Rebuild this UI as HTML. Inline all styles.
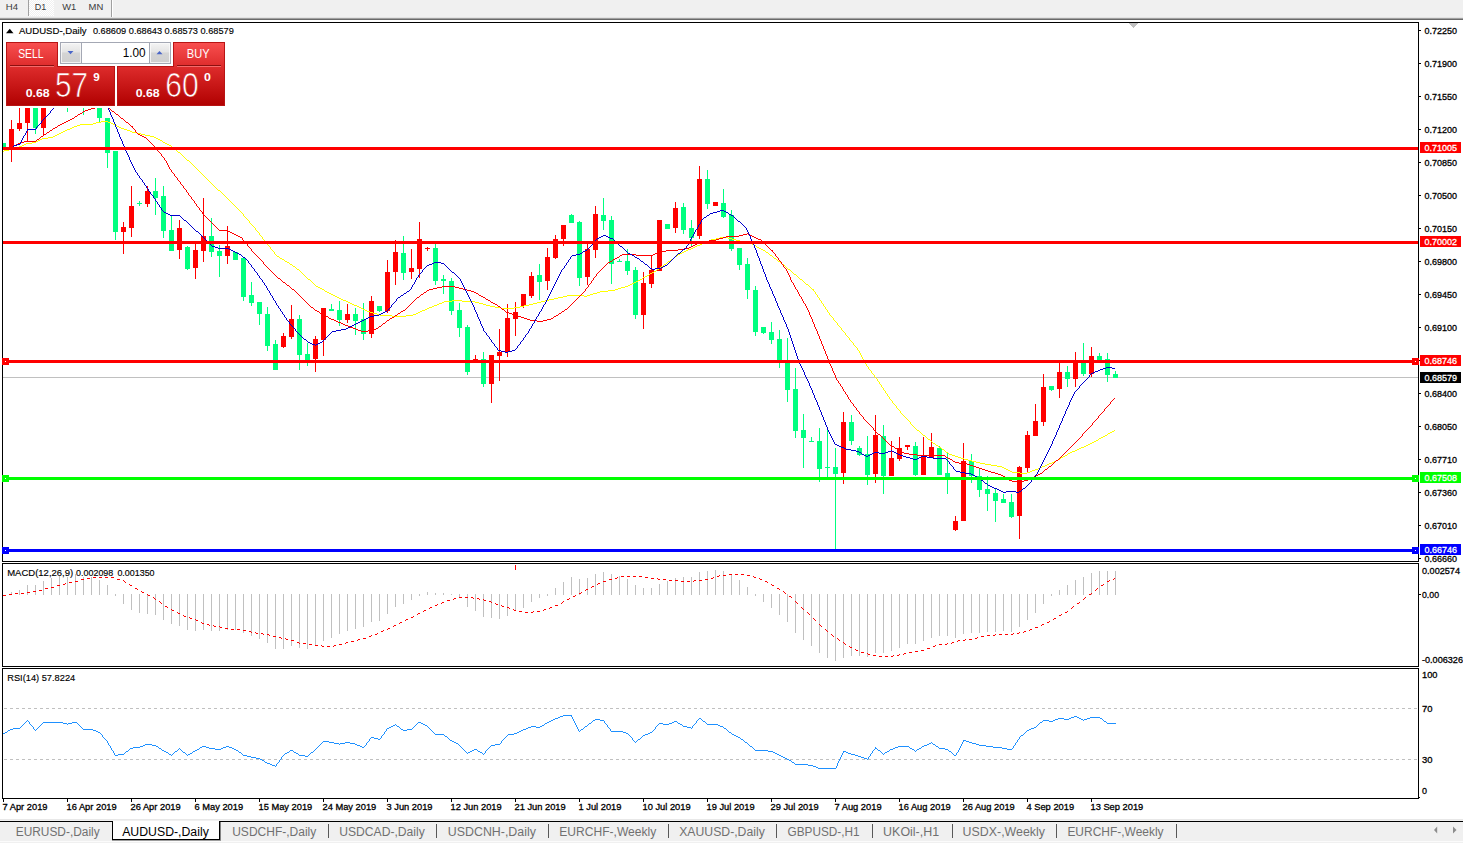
<!DOCTYPE html><html><head><meta charset="utf-8"><title>AUDUSD</title><style>html,body{margin:0;padding:0;background:#fff;overflow:hidden}</style></head><body><svg width="1463" height="843" viewBox="0 0 1463 843" font-family="Liberation Sans, sans-serif" style="display:block">
<defs>
<linearGradient id="gr" gradientUnits="userSpaceOnUse" x1="0" y1="42" x2="0" y2="106"><stop offset="0" stop-color="#f95050"/><stop offset="0.38" stop-color="#de2c2c"/><stop offset="1" stop-color="#b00000"/></linearGradient>
<linearGradient id="gb" x1="0" y1="0" x2="0" y2="1"><stop offset="0" stop-color="#f4f4f4"/><stop offset="0.45" stop-color="#e4e4e4"/><stop offset="0.5" stop-color="#d4d4d4"/><stop offset="1" stop-color="#cfcfcf"/></linearGradient>
<pattern id="chk" width="2" height="2" patternUnits="userSpaceOnUse"><rect width="2" height="2" fill="#f0f0f0"/><rect width="1" height="1" fill="#fff"/><rect x="1" y="1" width="1" height="1" fill="#fff"/></pattern>
</defs>
<rect x="0" y="0" width="1463" height="843" fill="#fff" />
<g shape-rendering="crispEdges">
<rect x="0" y="0" width="1463" height="17" fill="#f0f0f0" />
<rect x="0" y="17" width="1463" height="1" fill="#e3e3e3" />
<rect x="0" y="18" width="1463" height="1" fill="#a0a0a0" />
<rect x="0" y="19" width="1463" height="1" fill="#696969" />
<rect x="29" y="0" width="25" height="16" fill="url(#chk)" />
<rect x="28" y="0" width="1" height="16" fill="#a0a0a0" />
<rect x="111" y="0" width="1" height="17" fill="#a0a0a0" />
<rect x="112" y="0" width="1" height="17" fill="#ffffff" />
</g>
<text x="5.8" y="9.5" font-size="9.3" fill="#3a3a3a" textLength="12.2" lengthAdjust="spacingAndGlyphs" >H4</text>
<text x="34.7" y="9.5" font-size="9.3" fill="#3a3a3a" textLength="11.5" lengthAdjust="spacingAndGlyphs" >D1</text>
<text x="62.2" y="9.5" font-size="9.3" fill="#3a3a3a" textLength="14" lengthAdjust="spacingAndGlyphs" >W1</text>
<text x="88.6" y="9.5" font-size="9.3" fill="#3a3a3a" textLength="14.7" lengthAdjust="spacingAndGlyphs" >MN</text>
<g shape-rendering="crispEdges">
<rect x="2" y="22" width="1417" height="1" fill="#000" />
<rect x="2" y="561" width="1417" height="1" fill="#000" />
<rect x="2" y="22" width="1" height="540" fill="#000" />
<rect x="1418" y="22" width="1" height="540" fill="#000" />
<rect x="2" y="563" width="1417" height="1" fill="#000" />
<rect x="2" y="666" width="1417" height="1" fill="#000" />
<rect x="2" y="563" width="1" height="104" fill="#000" />
<rect x="1418" y="563" width="1" height="104" fill="#000" />
<rect x="2" y="668" width="1417" height="1" fill="#000" />
<rect x="2" y="798" width="1417" height="1" fill="#000" />
<rect x="2" y="668" width="1" height="131" fill="#000" />
<rect x="1418" y="668" width="1" height="131" fill="#000" />
<polygon points="1128.5,23 1138.5,23 1133.5,28" fill="#c0c0c0"/>
<rect x="3" y="377" width="1415" height="1" fill="#c0c0c0" />
<rect x="3" y="143" width="1" height="6" fill="#00ff7f" />
<rect x="3" y="143" width="3" height="5" fill="#00ff7f" />
<rect x="11" y="120" width="1" height="42" fill="#ff0000" />
<rect x="9" y="129" width="5" height="19" fill="#ff0000" />
<rect x="19" y="100" width="1" height="31" fill="#ff0000" />
<rect x="17" y="123" width="5" height="6" fill="#ff0000" />
<rect x="27" y="100" width="1" height="42" fill="#ff0000" />
<rect x="25" y="100" width="5" height="23" fill="#ff0000" />
<rect x="35" y="100" width="1" height="34" fill="#00ff7f" />
<rect x="33" y="100" width="5" height="28" fill="#00ff7f" />
<rect x="43" y="100" width="1" height="35" fill="#ff0000" />
<rect x="41" y="100" width="5" height="28" fill="#ff0000" />
<rect x="67" y="100" width="1" height="12" fill="#00ff7f" />
<rect x="83" y="100" width="1" height="15" fill="#00ff7f" />
<rect x="99" y="100" width="1" height="22" fill="#00ff7f" />
<rect x="97" y="100" width="5" height="18" fill="#00ff7f" />
<rect x="107" y="118" width="1" height="50" fill="#00ff7f" />
<rect x="105" y="118" width="5" height="35" fill="#00ff7f" />
<rect x="115" y="151" width="1" height="89" fill="#00ff7f" />
<rect x="113" y="151" width="5" height="81" fill="#00ff7f" />
<rect x="123" y="222" width="1" height="32" fill="#ff0000" />
<rect x="121" y="227" width="5" height="5" fill="#ff0000" />
<rect x="131" y="186" width="1" height="51" fill="#ff0000" />
<rect x="129" y="206" width="5" height="22" fill="#ff0000" />
<rect x="139" y="201" width="1" height="5" fill="#00ff7f" />
<rect x="137" y="203" width="5" height="1" fill="#00ff7f" />
<rect x="147" y="186" width="1" height="21" fill="#ff0000" />
<rect x="145" y="191" width="5" height="13" fill="#ff0000" />
<rect x="155" y="178" width="1" height="37" fill="#00ff7f" />
<rect x="153" y="191" width="5" height="7" fill="#00ff7f" />
<rect x="163" y="186" width="1" height="52" fill="#00ff7f" />
<rect x="161" y="196" width="5" height="35" fill="#00ff7f" />
<rect x="171" y="216" width="1" height="35" fill="#00ff7f" />
<rect x="169" y="230" width="5" height="21" fill="#00ff7f" />
<rect x="179" y="220" width="1" height="39" fill="#ff0000" />
<rect x="177" y="228" width="5" height="22" fill="#ff0000" />
<rect x="187" y="246" width="1" height="24" fill="#00ff7f" />
<rect x="185" y="247" width="5" height="22" fill="#00ff7f" />
<rect x="195" y="244" width="1" height="35" fill="#ff0000" />
<rect x="193" y="250" width="5" height="18" fill="#ff0000" />
<rect x="203" y="198" width="1" height="64" fill="#ff0000" />
<rect x="201" y="236" width="5" height="15" fill="#ff0000" />
<rect x="211" y="218" width="1" height="39" fill="#00ff7f" />
<rect x="209" y="236" width="5" height="16" fill="#00ff7f" />
<rect x="219" y="245" width="1" height="32" fill="#00ff7f" />
<rect x="217" y="251" width="5" height="5" fill="#00ff7f" />
<rect x="227" y="226" width="1" height="38" fill="#ff0000" />
<rect x="225" y="246" width="5" height="10" fill="#ff0000" />
<rect x="235" y="252" width="1" height="8" fill="#00ff7f" />
<rect x="233" y="252" width="5" height="8" fill="#00ff7f" />
<rect x="243" y="257" width="1" height="44" fill="#00ff7f" />
<rect x="241" y="258" width="5" height="39" fill="#00ff7f" />
<rect x="251" y="282" width="1" height="24" fill="#00ff7f" />
<rect x="249" y="295" width="5" height="8" fill="#00ff7f" />
<rect x="259" y="302" width="1" height="23" fill="#00ff7f" />
<rect x="257" y="302" width="5" height="12" fill="#00ff7f" />
<rect x="267" y="307" width="1" height="44" fill="#00ff7f" />
<rect x="265" y="314" width="5" height="32" fill="#00ff7f" />
<rect x="275" y="340" width="1" height="30" fill="#00ff7f" />
<rect x="273" y="344" width="5" height="26" fill="#00ff7f" />
<rect x="283" y="333" width="1" height="15" fill="#ff0000" />
<rect x="281" y="336" width="5" height="11" fill="#ff0000" />
<rect x="291" y="305" width="1" height="34" fill="#ff0000" />
<rect x="289" y="319" width="5" height="18" fill="#ff0000" />
<rect x="299" y="315" width="1" height="55" fill="#00ff7f" />
<rect x="297" y="319" width="5" height="36" fill="#00ff7f" />
<rect x="307" y="343" width="1" height="23" fill="#00ff7f" />
<rect x="305" y="354" width="5" height="7" fill="#00ff7f" />
<rect x="315" y="336" width="1" height="36" fill="#ff0000" />
<rect x="313" y="339" width="5" height="20" fill="#ff0000" />
<rect x="323" y="308" width="1" height="48" fill="#ff0000" />
<rect x="321" y="308" width="5" height="32" fill="#ff0000" />
<rect x="331" y="304" width="1" height="7" fill="#00ff7f" />
<rect x="329" y="309" width="5" height="2" fill="#00ff7f" />
<rect x="339" y="301" width="1" height="25" fill="#00ff7f" />
<rect x="337" y="310" width="5" height="10" fill="#00ff7f" />
<rect x="347" y="304" width="1" height="19" fill="#ff0000" />
<rect x="345" y="314" width="5" height="6" fill="#ff0000" />
<rect x="355" y="308" width="1" height="27" fill="#00ff7f" />
<rect x="353" y="314" width="5" height="7" fill="#00ff7f" />
<rect x="363" y="303" width="1" height="37" fill="#00ff7f" />
<rect x="361" y="319" width="5" height="15" fill="#00ff7f" />
<rect x="371" y="296" width="1" height="42" fill="#ff0000" />
<rect x="369" y="301" width="5" height="33" fill="#ff0000" />
<rect x="379" y="306" width="1" height="6" fill="#00ff7f" />
<rect x="377" y="306" width="5" height="5" fill="#00ff7f" />
<rect x="387" y="260" width="1" height="53" fill="#ff0000" />
<rect x="385" y="272" width="5" height="39" fill="#ff0000" />
<rect x="395" y="240" width="1" height="45" fill="#ff0000" />
<rect x="393" y="252" width="5" height="20" fill="#ff0000" />
<rect x="403" y="236" width="1" height="44" fill="#00ff7f" />
<rect x="401" y="253" width="5" height="20" fill="#00ff7f" />
<rect x="411" y="249" width="1" height="30" fill="#ff0000" />
<rect x="409" y="268" width="5" height="4" fill="#ff0000" />
<rect x="419" y="222" width="1" height="56" fill="#ff0000" />
<rect x="417" y="239" width="5" height="30" fill="#ff0000" />
<rect x="427" y="247" width="1" height="4" fill="#ff0000" />
<rect x="425" y="248" width="5" height="1" fill="#ff0000" />
<rect x="435" y="244" width="1" height="41" fill="#00ff7f" />
<rect x="433" y="248" width="5" height="33" fill="#00ff7f" />
<rect x="443" y="275" width="1" height="19" fill="#00ff7f" />
<rect x="441" y="279" width="5" height="2" fill="#00ff7f" />
<rect x="451" y="278" width="1" height="37" fill="#00ff7f" />
<rect x="449" y="281" width="5" height="30" fill="#00ff7f" />
<rect x="459" y="303" width="1" height="34" fill="#00ff7f" />
<rect x="457" y="310" width="5" height="18" fill="#00ff7f" />
<rect x="467" y="325" width="1" height="50" fill="#00ff7f" />
<rect x="465" y="327" width="5" height="45" fill="#00ff7f" />
<rect x="475" y="355" width="1" height="7" fill="#ff0000" />
<rect x="473" y="359" width="5" height="3" fill="#ff0000" />
<rect x="483" y="352" width="1" height="35" fill="#00ff7f" />
<rect x="481" y="359" width="5" height="25" fill="#00ff7f" />
<rect x="491" y="355" width="1" height="48" fill="#ff0000" />
<rect x="489" y="355" width="5" height="29" fill="#ff0000" />
<rect x="499" y="329" width="1" height="52" fill="#ff0000" />
<rect x="497" y="352" width="5" height="4" fill="#ff0000" />
<rect x="507" y="304" width="1" height="53" fill="#ff0000" />
<rect x="505" y="318" width="5" height="34" fill="#ff0000" />
<rect x="515" y="302" width="1" height="34" fill="#ff0000" />
<rect x="513" y="312" width="5" height="7" fill="#ff0000" />
<rect x="523" y="294" width="1" height="14" fill="#ff0000" />
<rect x="521" y="294" width="5" height="12" fill="#ff0000" />
<rect x="531" y="272" width="1" height="26" fill="#ff0000" />
<rect x="529" y="276" width="5" height="20" fill="#ff0000" />
<rect x="539" y="264" width="1" height="36" fill="#00ff7f" />
<rect x="537" y="275" width="5" height="7" fill="#00ff7f" />
<rect x="547" y="248" width="1" height="42" fill="#ff0000" />
<rect x="545" y="257" width="5" height="24" fill="#ff0000" />
<rect x="555" y="235" width="1" height="24" fill="#ff0000" />
<rect x="553" y="239" width="5" height="19" fill="#ff0000" />
<rect x="563" y="225" width="1" height="21" fill="#ff0000" />
<rect x="561" y="225" width="5" height="14" fill="#ff0000" />
<rect x="571" y="214" width="1" height="9" fill="#00ff7f" />
<rect x="569" y="215" width="5" height="8" fill="#00ff7f" />
<rect x="579" y="221" width="1" height="65" fill="#00ff7f" />
<rect x="577" y="222" width="5" height="56" fill="#00ff7f" />
<rect x="587" y="241" width="1" height="44" fill="#ff0000" />
<rect x="585" y="249" width="5" height="28" fill="#ff0000" />
<rect x="595" y="206" width="1" height="52" fill="#ff0000" />
<rect x="593" y="214" width="5" height="36" fill="#ff0000" />
<rect x="603" y="198" width="1" height="32" fill="#00ff7f" />
<rect x="601" y="215" width="5" height="6" fill="#00ff7f" />
<rect x="611" y="216" width="1" height="68" fill="#00ff7f" />
<rect x="609" y="220" width="5" height="44" fill="#00ff7f" />
<rect x="619" y="259" width="1" height="3" fill="#00ff7f" />
<rect x="617" y="261" width="5" height="1" fill="#00ff7f" />
<rect x="627" y="249" width="1" height="26" fill="#00ff7f" />
<rect x="625" y="261" width="5" height="10" fill="#00ff7f" />
<rect x="635" y="267" width="1" height="52" fill="#00ff7f" />
<rect x="633" y="270" width="5" height="45" fill="#00ff7f" />
<rect x="643" y="272" width="1" height="57" fill="#ff0000" />
<rect x="641" y="283" width="5" height="32" fill="#ff0000" />
<rect x="651" y="255" width="1" height="33" fill="#ff0000" />
<rect x="649" y="270" width="5" height="14" fill="#ff0000" />
<rect x="659" y="220" width="1" height="51" fill="#ff0000" />
<rect x="657" y="220" width="5" height="51" fill="#ff0000" />
<rect x="667" y="224" width="1" height="5" fill="#00ff7f" />
<rect x="665" y="224" width="5" height="5" fill="#00ff7f" />
<rect x="675" y="202" width="1" height="31" fill="#ff0000" />
<rect x="673" y="208" width="5" height="20" fill="#ff0000" />
<rect x="683" y="203" width="1" height="31" fill="#00ff7f" />
<rect x="681" y="207" width="5" height="23" fill="#00ff7f" />
<rect x="691" y="220" width="1" height="26" fill="#00ff7f" />
<rect x="689" y="228" width="5" height="10" fill="#00ff7f" />
<rect x="699" y="166" width="1" height="73" fill="#ff0000" />
<rect x="697" y="179" width="5" height="57" fill="#ff0000" />
<rect x="707" y="170" width="1" height="39" fill="#00ff7f" />
<rect x="705" y="179" width="5" height="25" fill="#00ff7f" />
<rect x="715" y="202" width="1" height="4" fill="#ff0000" />
<rect x="713" y="202" width="5" height="4" fill="#ff0000" />
<rect x="723" y="189" width="1" height="29" fill="#00ff7f" />
<rect x="721" y="203" width="5" height="14" fill="#00ff7f" />
<rect x="731" y="210" width="1" height="41" fill="#00ff7f" />
<rect x="729" y="215" width="5" height="34" fill="#00ff7f" />
<rect x="739" y="248" width="1" height="22" fill="#00ff7f" />
<rect x="737" y="248" width="5" height="17" fill="#00ff7f" />
<rect x="747" y="258" width="1" height="41" fill="#00ff7f" />
<rect x="745" y="264" width="5" height="26" fill="#00ff7f" />
<rect x="755" y="286" width="1" height="50" fill="#00ff7f" />
<rect x="753" y="290" width="5" height="42" fill="#00ff7f" />
<rect x="763" y="327" width="1" height="7" fill="#00ff7f" />
<rect x="761" y="327" width="5" height="6" fill="#00ff7f" />
<rect x="771" y="322" width="1" height="22" fill="#00ff7f" />
<rect x="769" y="332" width="5" height="8" fill="#00ff7f" />
<rect x="779" y="330" width="1" height="38" fill="#00ff7f" />
<rect x="777" y="339" width="5" height="21" fill="#00ff7f" />
<rect x="787" y="338" width="1" height="64" fill="#00ff7f" />
<rect x="785" y="362" width="5" height="28" fill="#00ff7f" />
<rect x="795" y="368" width="1" height="70" fill="#00ff7f" />
<rect x="793" y="389" width="5" height="42" fill="#00ff7f" />
<rect x="803" y="414" width="1" height="54" fill="#00ff7f" />
<rect x="801" y="430" width="5" height="8" fill="#00ff7f" />
<rect x="811" y="437" width="1" height="5" fill="#00ff7f" />
<rect x="809" y="441" width="5" height="1" fill="#00ff7f" />
<rect x="819" y="428" width="1" height="54" fill="#00ff7f" />
<rect x="817" y="441" width="5" height="28" fill="#00ff7f" />
<rect x="827" y="430" width="1" height="48" fill="#00ff7f" />
<rect x="825" y="467" width="5" height="1" fill="#00ff7f" />
<rect x="835" y="448" width="1" height="101" fill="#00ff7f" />
<rect x="833" y="467" width="5" height="7" fill="#00ff7f" />
<rect x="843" y="412" width="1" height="72" fill="#ff0000" />
<rect x="841" y="422" width="5" height="51" fill="#ff0000" />
<rect x="851" y="415" width="1" height="30" fill="#00ff7f" />
<rect x="849" y="422" width="5" height="19" fill="#00ff7f" />
<rect x="859" y="446" width="1" height="10" fill="#00ff7f" />
<rect x="857" y="448" width="5" height="7" fill="#00ff7f" />
<rect x="867" y="436" width="1" height="49" fill="#00ff7f" />
<rect x="865" y="454" width="5" height="21" fill="#00ff7f" />
<rect x="875" y="415" width="1" height="68" fill="#ff0000" />
<rect x="873" y="435" width="5" height="39" fill="#ff0000" />
<rect x="883" y="425" width="1" height="69" fill="#00ff7f" />
<rect x="881" y="436" width="5" height="40" fill="#00ff7f" />
<rect x="891" y="441" width="1" height="35" fill="#ff0000" />
<rect x="889" y="458" width="5" height="18" fill="#ff0000" />
<rect x="899" y="437" width="1" height="24" fill="#ff0000" />
<rect x="897" y="448" width="5" height="11" fill="#ff0000" />
<rect x="907" y="445" width="1" height="5" fill="#ff0000" />
<rect x="905" y="445" width="5" height="2" fill="#ff0000" />
<rect x="915" y="442" width="1" height="34" fill="#00ff7f" />
<rect x="913" y="446" width="5" height="29" fill="#00ff7f" />
<rect x="923" y="437" width="1" height="38" fill="#ff0000" />
<rect x="921" y="457" width="5" height="18" fill="#ff0000" />
<rect x="931" y="433" width="1" height="25" fill="#ff0000" />
<rect x="929" y="447" width="5" height="11" fill="#ff0000" />
<rect x="939" y="446" width="1" height="29" fill="#00ff7f" />
<rect x="937" y="448" width="5" height="27" fill="#00ff7f" />
<rect x="947" y="453" width="1" height="41" fill="#00ff7f" />
<rect x="945" y="473" width="5" height="5" fill="#00ff7f" />
<rect x="955" y="516" width="1" height="15" fill="#ff0000" />
<rect x="953" y="521" width="5" height="9" fill="#ff0000" />
<rect x="963" y="443" width="1" height="78" fill="#ff0000" />
<rect x="961" y="461" width="5" height="60" fill="#ff0000" />
<rect x="971" y="454" width="1" height="29" fill="#00ff7f" />
<rect x="969" y="461" width="5" height="15" fill="#00ff7f" />
<rect x="979" y="468" width="1" height="29" fill="#00ff7f" />
<rect x="977" y="476" width="5" height="14" fill="#00ff7f" />
<rect x="987" y="476" width="1" height="35" fill="#00ff7f" />
<rect x="985" y="489" width="5" height="5" fill="#00ff7f" />
<rect x="995" y="489" width="1" height="33" fill="#00ff7f" />
<rect x="993" y="493" width="5" height="8" fill="#00ff7f" />
<rect x="1003" y="494" width="1" height="9" fill="#00ff7f" />
<rect x="1001" y="499" width="5" height="4" fill="#00ff7f" />
<rect x="1011" y="494" width="1" height="24" fill="#00ff7f" />
<rect x="1009" y="502" width="5" height="15" fill="#00ff7f" />
<rect x="1019" y="466" width="1" height="73" fill="#ff0000" />
<rect x="1017" y="467" width="5" height="49" fill="#ff0000" />
<rect x="1027" y="431" width="1" height="41" fill="#ff0000" />
<rect x="1025" y="435" width="5" height="33" fill="#ff0000" />
<rect x="1035" y="404" width="1" height="32" fill="#ff0000" />
<rect x="1033" y="421" width="5" height="15" fill="#ff0000" />
<rect x="1043" y="374" width="1" height="52" fill="#ff0000" />
<rect x="1041" y="387" width="5" height="35" fill="#ff0000" />
<rect x="1051" y="386" width="1" height="5" fill="#00ff7f" />
<rect x="1049" y="386" width="5" height="4" fill="#00ff7f" />
<rect x="1059" y="361" width="1" height="37" fill="#ff0000" />
<rect x="1057" y="372" width="5" height="17" fill="#ff0000" />
<rect x="1067" y="366" width="1" height="21" fill="#00ff7f" />
<rect x="1065" y="372" width="5" height="7" fill="#00ff7f" />
<rect x="1075" y="352" width="1" height="35" fill="#ff0000" />
<rect x="1073" y="361" width="5" height="18" fill="#ff0000" />
<rect x="1083" y="343" width="1" height="33" fill="#00ff7f" />
<rect x="1081" y="361" width="5" height="13" fill="#00ff7f" />
<rect x="1091" y="347" width="1" height="30" fill="#ff0000" />
<rect x="1089" y="356" width="5" height="18" fill="#ff0000" />
<rect x="1099" y="353" width="1" height="9" fill="#00ff7f" />
<rect x="1097" y="356" width="5" height="6" fill="#00ff7f" />
<rect x="1107" y="353" width="1" height="29" fill="#00ff7f" />
<rect x="1105" y="359" width="5" height="16" fill="#00ff7f" />
<rect x="1115" y="371" width="1" height="7" fill="#00ff7f" />
<rect x="1113" y="374" width="5" height="4" fill="#00ff7f" />
</g>
<path fill="#ffff00" shape-rendering="crispEdges" d="M3,151h1v1h-1zM4,150h5v1h-5zM9,149h3v1h-3zM12,148h4v1h-4zM16,147h3v1h-3zM19,146h3v1h-3zM22,145h2v1h-2zM24,144h2v1h-2zM26,143h6v1h-6zM32,142h4v1h-4zM36,141h2v1h-2zM38,140h2v1h-2zM40,139h2v1h-2zM42,138h6v1h-6zM48,137h5v1h-5zM53,136h2v1h-2zM55,135h2v1h-2zM57,134h2v1h-2zM59,133h2v1h-2zM61,132h2v1h-2zM63,131h2v1h-2zM65,130h2v1h-2zM67,129h3v1h-3zM70,128h2v1h-2zM72,127h2v1h-2zM74,126h3v1h-3zM77,125h3v1h-3zM80,124h13v1h-13zM93,123h3v1h-3zM96,122h5v1h-5zM101,121h7v1h-7zM108,122h3v1h-3zM111,123h2v1h-2zM113,124h2v1h-2zM115,125h2v1h-2zM117,126h2v1h-2zM119,127h2v1h-2zM121,128h3v1h-3zM124,129h3v1h-3zM127,130h3v1h-3zM130,131h2v1h-2zM132,132h5v1h-5zM137,133h4v1h-4zM141,134h4v1h-4zM145,135h5v1h-5zM150,136h4v1h-4zM154,137h2v1h-2zM156,138h2v1h-2zM158,139h2v1h-2zM160,140h2v1h-2zM162,141h1v1h-1zM163,142h2v1h-2zM165,143h2v1h-2zM167,144h2v1h-2zM169,145h2v1h-2zM171,146h1v1h-1zM172,147h1v1h-1zM173,148h1v1h-1zM174,149h2v1h-2zM176,150h1v1h-1zM177,151h1v1h-1zM178,152h2v1h-2zM180,153h1v1h-1zM181,154h1v1h-1zM182,155h1v1h-1zM183,156h1v1h-1zM184,157h1v1h-1zM185,158h1v1h-1zM186,159h1v1h-1zM187,160h2v1h-2zM189,161h1v1h-1zM190,162h1v1h-1zM191,163h1v1h-1zM192,164h1v1h-1zM193,165h1v1h-1zM194,166h1v1h-1zM195,167h1v1h-1zM196,168h1v1h-1zM197,169h1v1h-1zM198,170h1v1h-1zM199,171h1v1h-1zM200,172h1v1h-1zM201,173h1v1h-1zM202,174h1v1h-1zM203,175h1v1h-1zM204,176h1v1h-1zM205,177h1v1h-1zM206,178h1v1h-1zM207,179h1v1h-1zM208,180h1v1h-1zM209,181h1v1h-1zM210,182h1v1h-1zM211,183h1v1h-1zM212,184h1v1h-1zM213,185h1v1h-1zM214,186h1v1h-1zM215,187h1v1h-1zM216,188h1v1h-1zM217,189h1v1h-1zM218,190h2v1h-2zM220,191h1v1h-1zM221,192h1v1h-1zM222,193h1v1h-1zM223,194h1v1h-1zM224,195h1v1h-1zM225,196h1v1h-1zM226,197h1v1h-1zM227,198h1v1h-1zM228,199h1v1h-1zM229,200h1v1h-1zM230,201h1v1h-1zM231,202h1v1h-1zM232,203h1v1h-1zM233,204h1v1h-1zM234,205h1v1h-1zM235,206h1v1h-1zM236,207h1v1h-1zM237,208h1v1h-1zM238,209h1v1h-1zM239,210h1v1h-1zM240,211h1v1h-1zM241,212h1v1h-1zM242,213h1v1h-1zM243,214h1v1h-1zM243,215h1v1h-1zM244,216h1v1h-1zM245,217h1v1h-1zM246,218h1v1h-1zM247,219h1v1h-1zM248,220h1v1h-1zM249,221h1v1h-1zM249,222h1v1h-1zM250,223h1v1h-1zM251,224h1v1h-1zM252,225h1v1h-1zM253,226h1v1h-1zM254,227h1v1h-1zM255,228h1v1h-1zM255,229h1v1h-1zM256,230h1v1h-1zM257,231h1v1h-1zM258,232h1v1h-1zM259,233h1v1h-1zM259,234h1v1h-1zM260,235h1v1h-1zM261,236h1v1h-1zM262,237h1v1h-1zM262,238h1v1h-1zM263,239h1v1h-1zM264,240h1v1h-1zM265,241h1v1h-1zM266,242h1v1h-1zM266,243h1v1h-1zM267,244h1v1h-1zM268,245h1v1h-1zM269,246h1v1h-1zM270,247h1v1h-1zM270,248h1v1h-1zM271,249h1v1h-1zM272,250h1v1h-1zM273,251h1v1h-1zM274,252h1v1h-1zM274,253h1v1h-1zM275,254h1v1h-1zM276,255h1v1h-1zM277,256h2v1h-2zM279,257h1v1h-1zM280,258h2v1h-2zM282,259h2v1h-2zM284,260h1v1h-1zM285,261h2v1h-2zM287,262h2v1h-2zM289,263h1v1h-1zM290,264h2v1h-2zM292,265h1v1h-1zM293,266h2v1h-2zM295,267h1v1h-1zM296,268h1v1h-1zM297,269h2v1h-2zM299,270h1v1h-1zM300,271h1v1h-1zM301,272h1v1h-1zM302,273h1v1h-1zM303,274h1v1h-1zM304,275h1v1h-1zM305,276h1v1h-1zM306,277h1v1h-1zM307,278h1v1h-1zM308,279h2v1h-2zM310,280h1v1h-1zM311,281h1v1h-1zM312,282h1v1h-1zM313,283h1v1h-1zM314,284h1v1h-1zM315,285h1v1h-1zM316,286h2v1h-2zM318,287h2v1h-2zM320,288h2v1h-2zM322,289h2v1h-2zM324,290h1v1h-1zM325,291h2v1h-2zM327,292h2v1h-2zM329,293h2v1h-2zM331,294h2v1h-2zM333,295h2v1h-2zM335,296h2v1h-2zM337,297h2v1h-2zM339,298h2v1h-2zM341,299h2v1h-2zM343,300h3v1h-3zM346,301h2v1h-2zM348,302h2v1h-2zM350,303h2v1h-2zM352,304h2v1h-2zM354,305h3v1h-3zM357,306h2v1h-2zM359,307h2v1h-2zM361,308h2v1h-2zM363,309h2v1h-2zM365,310h2v1h-2zM367,311h3v1h-3zM370,312h3v1h-3zM373,313h4v1h-4zM377,314h3v1h-3zM380,315h12v1h-12zM392,316h14v1h-14zM406,315h7v1h-7zM413,314h3v1h-3zM416,313h2v1h-2zM418,312h2v1h-2zM420,311h2v1h-2zM422,310h3v1h-3zM425,309h2v1h-2zM427,308h2v1h-2zM429,307h3v1h-3zM432,306h2v1h-2zM434,305h3v1h-3zM437,304h2v1h-2zM439,303h3v1h-3zM442,302h2v1h-2zM444,301h8v1h-8zM452,300h10v1h-10zM462,301h13v1h-13zM475,302h4v1h-4zM479,303h4v1h-4zM483,304h3v1h-3zM486,305h4v1h-4zM490,306h5v1h-5zM495,307h6v1h-6zM501,308h13v1h-13zM514,307h6v1h-6zM520,306h4v1h-4zM524,305h5v1h-5zM529,304h4v1h-4zM533,303h4v1h-4zM537,302h4v1h-4zM541,301h4v1h-4zM545,300h4v1h-4zM549,299h5v1h-5zM554,298h4v1h-4zM558,297h5v1h-5zM563,296h4v1h-4zM567,295h17v1h-17zM584,296h3v1h-3zM587,295h3v1h-3zM590,294h3v1h-3zM593,293h4v1h-4zM597,292h3v1h-3zM600,291h8v1h-8zM608,290h7v1h-7zM615,289h3v1h-3zM618,288h3v1h-3zM621,287h4v1h-4zM625,286h3v1h-3zM628,285h2v1h-2zM630,284h2v1h-2zM632,283h2v1h-2zM634,282h2v1h-2zM636,281h2v1h-2zM638,280h2v1h-2zM640,279h2v1h-2zM642,278h1v1h-1zM643,277h2v1h-2zM645,276h2v1h-2zM647,275h2v1h-2zM649,274h1v1h-1zM650,273h2v1h-2zM652,272h2v1h-2zM654,271h2v1h-2zM656,270h1v1h-1zM657,269h2v1h-2zM659,268h1v1h-1zM660,267h1v1h-1zM661,266h2v1h-2zM663,265h1v1h-1zM664,264h2v1h-2zM666,263h1v1h-1zM667,262h1v1h-1zM668,261h2v1h-2zM670,260h1v1h-1zM671,259h2v1h-2zM673,258h1v1h-1zM674,257h1v1h-1zM675,256h2v1h-2zM677,255h1v1h-1zM678,254h2v1h-2zM680,253h2v1h-2zM682,252h2v1h-2zM684,251h2v1h-2zM686,250h2v1h-2zM688,249h3v1h-3zM691,248h2v1h-2zM693,247h2v1h-2zM695,246h2v1h-2zM697,245h3v1h-3zM700,244h2v1h-2zM702,243h2v1h-2zM704,242h3v1h-3zM707,241h2v1h-2zM709,240h2v1h-2zM711,239h5v1h-5zM716,238h4v1h-4zM720,237h8v1h-8zM728,238h4v1h-4zM732,239h4v1h-4zM736,240h4v1h-4zM740,241h4v1h-4zM744,242h4v1h-4zM748,243h4v1h-4zM752,244h2v1h-2zM754,245h2v1h-2zM756,246h1v1h-1zM757,247h2v1h-2zM759,248h2v1h-2zM761,249h2v1h-2zM763,250h2v1h-2zM765,251h1v1h-1zM766,252h2v1h-2zM768,253h1v1h-1zM769,254h1v1h-1zM770,255h2v1h-2zM772,256h1v1h-1zM773,257h1v1h-1zM774,258h2v1h-2zM776,259h1v1h-1zM777,260h1v1h-1zM778,261h2v1h-2zM780,262h1v1h-1zM781,263h1v1h-1zM782,264h2v1h-2zM784,265h1v1h-1zM785,266h1v1h-1zM786,267h1v1h-1zM787,268h1v1h-1zM788,269h2v1h-2zM790,270h1v1h-1zM791,271h1v1h-1zM792,272h1v1h-1zM793,273h1v1h-1zM794,274h2v1h-2zM796,275h1v1h-1zM797,276h1v1h-1zM798,277h1v1h-1zM799,278h1v1h-1zM800,279h2v1h-2zM802,280h1v1h-1zM803,281h1v1h-1zM804,282h1v1h-1zM805,283h1v1h-1zM806,284h2v1h-2zM808,285h1v1h-1zM809,286h1v1h-1zM810,287h1v1h-1zM811,288h1v1h-1zM812,289h2v1h-2zM813,290h1v1h-1zM814,291h1v1h-1zM815,292h1v1h-1zM815,293h1v1h-1zM816,294h1v1h-1zM817,295h1v1h-1zM817,296h1v1h-1zM818,297h1v1h-1zM819,298h1v1h-1zM819,299h1v1h-1zM820,300h1v1h-1zM821,301h1v1h-1zM821,302h1v1h-1zM822,303h1v1h-1zM823,304h1v1h-1zM823,305h1v1h-1zM824,306h1v1h-1zM825,307h1v1h-1zM825,308h1v1h-1zM826,309h1v1h-1zM827,310h1v1h-1zM827,311h1v1h-1zM828,312h1v1h-1zM829,313h1v1h-1zM829,314h1v1h-1zM830,315h1v1h-1zM831,316h1v1h-1zM832,317h1v1h-1zM833,318h1v1h-1zM833,319h1v1h-1zM834,320h1v1h-1zM835,321h1v1h-1zM836,322h1v1h-1zM837,323h1v1h-1zM837,324h1v1h-1zM838,325h1v1h-1zM839,326h1v1h-1zM840,327h1v1h-1zM841,328h1v1h-1zM841,329h1v1h-1zM842,330h1v1h-1zM843,331h1v1h-1zM844,332h1v1h-1zM845,333h1v1h-1zM845,334h1v1h-1zM846,335h1v1h-1zM847,336h1v1h-1zM848,337h1v1h-1zM849,338h1v1h-1zM849,339h1v1h-1zM850,340h1v1h-1zM851,341h1v1h-1zM852,342h1v1h-1zM853,343h1v1h-1zM853,344h1v1h-1zM854,345h1v1h-1zM855,346h1v1h-1zM856,347h1v1h-1zM857,348h1v1h-1zM857,349h1v1h-1zM858,350h1v1h-1zM859,351h1v1h-1zM859,352h1v1h-1zM860,353h1v1h-1zM860,354h1v1h-1zM861,355h1v1h-1zM861,356h1v1h-1zM862,357h1v1h-1zM862,358h1v1h-1zM863,359h1v1h-1zM863,360h1v1h-1zM864,361h1v1h-1zM864,362h1v1h-1zM865,363h1v1h-1zM866,364h1v1h-1zM866,365h1v1h-1zM867,366h1v1h-1zM868,367h1v1h-1zM868,368h1v1h-1zM869,369h1v1h-1zM870,370h1v1h-1zM871,371h1v1h-1zM871,372h1v1h-1zM872,373h1v1h-1zM873,374h1v1h-1zM874,375h1v1h-1zM874,376h1v1h-1zM875,377h1v1h-1zM876,378h1v1h-1zM877,379h1v1h-1zM877,380h1v1h-1zM878,381h1v1h-1zM879,382h1v1h-1zM879,383h1v1h-1zM880,384h1v1h-1zM881,385h1v1h-1zM881,386h1v1h-1zM882,387h1v1h-1zM883,388h1v1h-1zM883,389h1v1h-1zM884,390h1v1h-1zM885,391h1v1h-1zM885,392h1v1h-1zM886,393h1v1h-1zM887,394h1v1h-1zM887,395h1v1h-1zM888,396h1v1h-1zM889,397h1v1h-1zM889,398h1v1h-1zM890,399h1v1h-1zM891,400h1v1h-1zM892,401h1v1h-1zM892,402h1v1h-1zM893,403h1v1h-1zM894,404h1v1h-1zM895,405h1v1h-1zM896,406h1v1h-1zM896,407h1v1h-1zM897,408h1v1h-1zM898,409h1v1h-1zM899,410h1v1h-1zM900,411h1v1h-1zM900,412h1v1h-1zM901,413h1v1h-1zM902,414h1v1h-1zM903,415h1v1h-1zM904,416h1v1h-1zM905,417h1v1h-1zM906,418h1v1h-1zM907,419h1v1h-1zM908,420h1v1h-1zM909,421h1v1h-1zM910,422h1v1h-1zM910,423h1v1h-1zM911,424h1v1h-1zM912,425h1v1h-1zM913,426h1v1h-1zM914,427h1v1h-1zM915,428h1v1h-1zM916,429h1v1h-1zM917,430h2v1h-2zM919,431h1v1h-1zM920,432h1v1h-1zM921,433h1v1h-1zM922,434h1v1h-1zM923,435h2v1h-2zM925,436h1v1h-1zM926,437h1v1h-1zM927,438h1v1h-1zM928,439h2v1h-2zM930,440h1v1h-1zM931,441h1v1h-1zM932,442h1v1h-1zM933,443h2v1h-2zM935,444h1v1h-1zM936,445h2v1h-2zM938,446h1v1h-1zM939,447h2v1h-2zM941,448h1v1h-1zM942,449h2v1h-2zM944,450h1v1h-1zM945,451h1v1h-1zM946,452h2v1h-2zM948,453h1v1h-1zM949,454h3v1h-3zM952,455h3v1h-3zM955,456h3v1h-3zM958,457h3v1h-3zM961,458h3v1h-3zM964,459h4v1h-4zM968,460h4v1h-4zM972,461h4v1h-4zM976,462h4v1h-4zM980,463h5v1h-5zM985,464h6v1h-6zM991,465h6v1h-6zM997,466h5v1h-5zM1002,467h2v1h-2zM1004,468h2v1h-2zM1006,469h2v1h-2zM1008,470h2v1h-2zM1010,471h2v1h-2zM1012,472h8v1h-8zM1020,473h7v1h-7zM1027,472h3v1h-3zM1030,471h2v1h-2zM1032,470h3v1h-3zM1035,469h3v1h-3zM1038,468h2v1h-2zM1040,467h2v1h-2zM1042,466h3v1h-3zM1045,465h2v1h-2zM1047,464h2v1h-2zM1049,463h3v1h-3zM1052,462h2v1h-2zM1054,461h2v1h-2zM1056,460h2v1h-2zM1058,459h2v1h-2zM1060,458h1v1h-1zM1061,457h2v1h-2zM1063,456h2v1h-2zM1065,455h2v1h-2zM1067,454h1v1h-1zM1068,453h2v1h-2zM1070,452h2v1h-2zM1072,451h3v1h-3zM1075,450h2v1h-2zM1077,449h2v1h-2zM1079,448h2v1h-2zM1081,447h3v1h-3zM1084,446h2v1h-2zM1086,445h2v1h-2zM1088,444h2v1h-2zM1090,443h2v1h-2zM1092,442h2v1h-2zM1094,441h2v1h-2zM1096,440h2v1h-2zM1098,439h1v1h-1zM1099,438h2v1h-2zM1101,437h2v1h-2zM1103,436h2v1h-2zM1105,435h2v1h-2zM1107,434h1v1h-1zM1108,433h2v1h-2zM1110,432h2v1h-2zM1112,431h2v1h-2zM1114,430h1v1h-1z"/>
<path fill="#ff0000" shape-rendering="crispEdges" d="M3,149h3v1h-3zM6,148h3v1h-3zM9,147h3v1h-3zM12,146h2v1h-2zM14,145h2v1h-2zM16,144h2v1h-2zM18,143h3v1h-3zM21,142h3v1h-3zM24,141h12v1h-12zM36,140h1v1h-1zM37,139h2v1h-2zM39,138h1v1h-1zM40,137h1v1h-1zM41,136h2v1h-2zM43,135h1v1h-1zM44,134h2v1h-2zM46,133h1v1h-1zM47,132h2v1h-2zM49,131h1v1h-1zM50,130h2v1h-2zM52,129h1v1h-1zM53,128h2v1h-2zM55,127h2v1h-2zM57,126h1v1h-1zM58,125h2v1h-2zM60,124h2v1h-2zM62,123h2v1h-2zM64,122h2v1h-2zM66,121h2v1h-2zM68,120h2v1h-2zM70,119h2v1h-2zM72,118h2v1h-2zM74,117h1v1h-1zM75,116h2v1h-2zM77,115h1v1h-1zM78,114h2v1h-2zM80,113h2v1h-2zM82,112h1v1h-1zM83,111h2v1h-2zM85,110h3v1h-3zM88,109h3v1h-3zM91,108h4v1h-4zM95,107h4v1h-4zM99,106h7v1h-7zM106,107h2v1h-2zM108,108h2v1h-2zM110,109h1v1h-1zM111,110h1v1h-1zM112,111h2v1h-2zM114,112h1v1h-1zM115,113h1v1h-1zM116,114h2v1h-2zM118,115h1v1h-1zM119,116h1v1h-1zM120,117h1v1h-1zM121,118h2v1h-2zM123,119h1v1h-1zM124,120h1v1h-1zM125,121h1v1h-1zM126,122h2v1h-2zM128,123h1v1h-1zM129,124h1v1h-1zM130,125h1v1h-1zM131,126h2v1h-2zM132,127h1v1h-1zM133,128h1v1h-1zM134,129h1v1h-1zM135,130h1v1h-1zM135,131h1v1h-1zM136,132h1v1h-1zM137,133h1v1h-1zM138,134h2v1h-2zM140,135h2v1h-2zM142,136h2v1h-2zM144,137h2v1h-2zM146,138h1v1h-1zM147,139h1v1h-1zM148,140h1v1h-1zM149,141h1v1h-1zM150,142h1v1h-1zM151,143h1v1h-1zM152,144h1v1h-1zM153,145h1v1h-1zM154,146h1v1h-1zM155,147h1v1h-1zM156,148h1v1h-1zM157,149h1v1h-1zM157,150h1v1h-1zM158,151h1v1h-1zM159,152h1v1h-1zM160,153h1v1h-1zM161,154h1v1h-1zM161,155h1v1h-1zM162,156h1v1h-1zM163,157h1v1h-1zM164,158h1v1h-1zM164,159h1v1h-1zM165,160h1v1h-1zM166,161h1v1h-1zM166,162h1v1h-1zM167,163h1v1h-1zM167,164h1v1h-1zM168,165h1v1h-1zM168,166h1v1h-1zM169,167h1v1h-1zM169,168h1v1h-1zM170,169h1v1h-1zM171,170h1v1h-1zM171,171h1v1h-1zM172,172h1v1h-1zM173,173h1v1h-1zM174,174h1v1h-1zM174,175h1v1h-1zM175,176h1v1h-1zM176,177h1v1h-1zM177,178h1v1h-1zM177,179h1v1h-1zM178,180h1v1h-1zM179,181h1v1h-1zM180,182h1v1h-1zM180,183h1v1h-1zM181,184h1v1h-1zM182,185h1v1h-1zM183,186h1v1h-1zM183,187h1v1h-1zM184,188h1v1h-1zM185,189h1v1h-1zM186,190h1v1h-1zM186,191h1v1h-1zM187,192h1v1h-1zM188,193h1v1h-1zM188,194h1v1h-1zM189,195h1v1h-1zM190,196h1v1h-1zM191,197h1v1h-1zM191,198h1v1h-1zM192,199h1v1h-1zM193,200h1v1h-1zM194,201h1v1h-1zM194,202h1v1h-1zM195,203h1v1h-1zM196,204h1v1h-1zM196,205h1v1h-1zM197,206h1v1h-1zM198,207h1v1h-1zM199,208h1v1h-1zM199,209h1v1h-1zM200,210h1v1h-1zM201,211h1v1h-1zM202,212h1v1h-1zM202,213h1v1h-1zM203,214h1v1h-1zM204,215h1v1h-1zM205,216h1v1h-1zM206,217h1v1h-1zM207,218h1v1h-1zM208,219h1v1h-1zM209,220h1v1h-1zM210,221h1v1h-1zM211,222h1v1h-1zM212,223h1v1h-1zM213,224h1v1h-1zM214,225h1v1h-1zM215,226h1v1h-1zM216,227h1v1h-1zM217,228h1v1h-1zM218,229h1v1h-1zM219,230h8v1h-8zM227,231h3v1h-3zM230,232h2v1h-2zM232,233h2v1h-2zM234,234h2v1h-2zM236,235h2v1h-2zM238,236h2v1h-2zM240,237h2v1h-2zM242,238h1v1h-1zM242,239h1v1h-1zM243,240h1v1h-1zM244,241h1v1h-1zM245,242h1v1h-1zM246,243h1v1h-1zM247,244h1v1h-1zM247,245h1v1h-1zM248,246h1v1h-1zM249,247h1v1h-1zM250,248h1v1h-1zM251,249h1v1h-1zM251,250h1v1h-1zM252,251h1v1h-1zM253,252h1v1h-1zM254,253h1v1h-1zM255,254h1v1h-1zM256,255h1v1h-1zM257,256h1v1h-1zM258,257h1v1h-1zM259,258h1v1h-1zM260,259h1v1h-1zM261,260h1v1h-1zM262,261h1v1h-1zM263,262h1v1h-1zM263,263h1v1h-1zM264,264h1v1h-1zM265,265h1v1h-1zM266,266h1v1h-1zM267,267h1v1h-1zM268,268h1v1h-1zM269,269h1v1h-1zM270,270h1v1h-1zM271,271h1v1h-1zM272,272h1v1h-1zM273,273h1v1h-1zM274,274h1v1h-1zM275,275h1v1h-1zM276,276h1v1h-1zM277,277h1v1h-1zM278,278h2v1h-2zM280,279h1v1h-1zM281,280h1v1h-1zM282,281h1v1h-1zM283,282h2v1h-2zM285,283h1v1h-1zM286,284h1v1h-1zM287,285h2v1h-2zM289,286h1v1h-1zM290,287h1v1h-1zM291,288h1v1h-1zM292,289h2v1h-2zM294,290h1v1h-1zM295,291h1v1h-1zM296,292h1v1h-1zM297,293h1v1h-1zM298,294h1v1h-1zM299,295h1v1h-1zM300,296h1v1h-1zM301,297h1v1h-1zM302,298h1v1h-1zM303,299h1v1h-1zM304,300h1v1h-1zM305,301h1v1h-1zM306,302h1v1h-1zM307,303h1v1h-1zM308,304h1v1h-1zM309,305h1v1h-1zM310,306h1v1h-1zM311,307h2v1h-2zM313,308h1v1h-1zM314,309h1v1h-1zM315,310h2v1h-2zM317,311h2v1h-2zM319,312h1v1h-1zM320,313h2v1h-2zM322,314h2v1h-2zM324,315h2v1h-2zM326,316h2v1h-2zM328,317h1v1h-1zM329,318h2v1h-2zM331,319h3v1h-3zM334,320h2v1h-2zM336,321h2v1h-2zM338,322h3v1h-3zM341,323h2v1h-2zM343,324h2v1h-2zM345,325h3v1h-3zM348,326h2v1h-2zM350,327h3v1h-3zM353,328h3v1h-3zM356,329h2v1h-2zM358,330h3v1h-3zM361,331h7v1h-7zM368,330h6v1h-6zM374,329h2v1h-2zM376,328h2v1h-2zM378,327h1v1h-1zM379,326h2v1h-2zM381,325h1v1h-1zM382,324h1v1h-1zM383,323h2v1h-2zM385,322h1v1h-1zM386,321h1v1h-1zM387,320h2v1h-2zM389,319h1v1h-1zM390,318h2v1h-2zM392,317h2v1h-2zM394,316h1v1h-1zM395,315h2v1h-2zM397,314h1v1h-1zM398,313h2v1h-2zM400,312h1v1h-1zM401,311h2v1h-2zM403,310h2v1h-2zM405,309h1v1h-1zM406,308h1v1h-1zM407,307h1v1h-1zM408,306h1v1h-1zM409,305h1v1h-1zM410,304h1v1h-1zM411,303h1v1h-1zM412,302h1v1h-1zM413,301h1v1h-1zM414,300h1v1h-1zM415,299h1v1h-1zM416,298h1v1h-1zM417,297h2v1h-2zM419,296h1v1h-1zM420,295h1v1h-1zM421,294h2v1h-2zM423,293h1v1h-1zM424,292h2v1h-2zM426,291h1v1h-1zM427,290h2v1h-2zM429,289h4v1h-4zM433,288h4v1h-4zM437,287h5v1h-5zM442,286h13v1h-13zM455,287h4v1h-4zM459,288h4v1h-4zM463,289h4v1h-4zM467,290h4v1h-4zM471,291h3v1h-3zM474,292h2v1h-2zM476,293h2v1h-2zM478,294h1v1h-1zM479,295h2v1h-2zM481,296h2v1h-2zM483,297h2v1h-2zM485,298h1v1h-1zM486,299h2v1h-2zM488,300h2v1h-2zM490,301h1v1h-1zM491,302h2v1h-2zM493,303h2v1h-2zM495,304h2v1h-2zM497,305h1v1h-1zM498,306h2v1h-2zM500,307h1v1h-1zM501,308h1v1h-1zM502,309h2v1h-2zM504,310h1v1h-1zM505,311h1v1h-1zM506,312h3v1h-3zM509,313h3v1h-3zM512,314h3v1h-3zM515,315h3v1h-3zM518,316h3v1h-3zM521,317h3v1h-3zM524,318h3v1h-3zM527,319h3v1h-3zM530,320h7v1h-7zM537,321h6v1h-6zM543,320h4v1h-4zM547,319h4v1h-4zM551,318h2v1h-2zM553,317h1v1h-1zM554,316h2v1h-2zM556,315h2v1h-2zM558,314h1v1h-1zM559,313h2v1h-2zM561,312h1v1h-1zM562,311h2v1h-2zM564,310h1v1h-1zM565,309h2v1h-2zM567,308h1v1h-1zM568,307h1v1h-1zM569,306h1v1h-1zM570,305h1v1h-1zM571,304h1v1h-1zM572,303h1v1h-1zM573,302h1v1h-1zM574,301h1v1h-1zM575,300h1v1h-1zM576,299h1v1h-1zM577,298h1v1h-1zM578,297h1v1h-1zM579,296h1v1h-1zM580,295h1v1h-1zM581,294h1v1h-1zM582,293h1v1h-1zM583,292h1v1h-1zM584,291h1v1h-1zM585,289h1v2h-1zM586,288h1v1h-1zM587,287h1v1h-1zM588,285h1v2h-1zM589,284h1v1h-1zM590,283h1v1h-1zM591,281h1v2h-1zM592,280h1v1h-1zM593,278h1v2h-1zM594,277h1v1h-1zM595,276h1v1h-1zM596,274h1v2h-1zM597,273h1v1h-1zM598,272h1v1h-1zM599,271h1v1h-1zM600,270h1v1h-1zM601,269h1v1h-1zM602,268h1v1h-1zM603,267h1v1h-1zM604,266h1v1h-1zM605,265h1v1h-1zM606,264h1v1h-1zM607,263h1v1h-1zM608,262h2v1h-2zM610,261h2v1h-2zM612,260h1v1h-1zM613,259h2v1h-2zM615,258h2v1h-2zM617,257h2v1h-2zM619,256h1v1h-1zM620,255h2v1h-2zM622,254h14v1h-14zM636,255h17v1h-17zM653,254h2v1h-2zM655,253h3v1h-3zM658,252h2v1h-2zM660,251h6v1h-6zM666,250h12v1h-12zM678,249h6v1h-6zM684,248h5v1h-5zM689,247h2v1h-2zM691,246h2v1h-2zM693,245h2v1h-2zM695,244h2v1h-2zM697,243h2v1h-2zM699,242h3v1h-3zM702,241h7v1h-7zM709,240h7v1h-7zM716,239h3v1h-3zM719,238h4v1h-4zM723,237h3v1h-3zM726,236h13v1h-13zM739,235h4v1h-4zM743,234h4v1h-4zM747,233h1v1h-1zM748,234h2v1h-2zM750,235h2v1h-2zM752,236h2v1h-2zM754,237h2v1h-2zM756,238h2v1h-2zM758,239h3v1h-3zM761,240h1v1h-1zM762,241h1v1h-1zM763,242h1v1h-1zM764,243h1v1h-1zM765,244h1v1h-1zM766,245h1v1h-1zM767,246h1v1h-1zM768,247h1v1h-1zM769,248h1v1h-1zM770,249h1v1h-1zM771,250h2v1h-2zM772,251h1v1h-1zM773,252h1v1h-1zM774,253h1v1h-1zM775,254h1v1h-1zM775,255h1v1h-1zM776,256h1v1h-1zM777,257h1v1h-1zM778,258h1v1h-1zM778,259h1v1h-1zM779,260h1v1h-1zM780,261h1v1h-1zM781,262h1v1h-1zM781,263h1v1h-1zM782,264h1v1h-1zM783,265h1v1h-1zM783,266h1v1h-1zM784,267h1v1h-1zM785,268h1v1h-1zM786,269h1v1h-1zM786,270h1v1h-1zM787,271h1v1h-1zM787,272h1v1h-1zM788,273h1v1h-1zM788,274h1v1h-1zM789,275h1v1h-1zM789,276h1v1h-1zM790,277h1v2h-1zM790,279h1v1h-1zM791,280h1v1h-1zM791,281h1v1h-1zM792,282h1v1h-1zM793,283h1v1h-1zM793,284h1v1h-1zM794,285h1v1h-1zM794,286h1v1h-1zM795,287h1v1h-1zM795,288h1v1h-1zM796,289h1v1h-1zM797,290h1v1h-1zM797,291h1v1h-1zM798,292h1v1h-1zM798,293h1v1h-1zM799,294h1v1h-1zM799,295h1v1h-1zM800,296h1v1h-1zM801,297h1v1h-1zM801,298h1v1h-1zM802,299h1v1h-1zM802,300h1v1h-1zM803,301h1v1h-1zM803,302h1v1h-1zM804,303h1v1h-1zM805,304h1v1h-1zM805,305h1v1h-1zM806,306h1v1h-1zM806,307h1v1h-1zM807,308h1v1h-1zM807,309h1v1h-1zM808,310h1v1h-1zM808,311h1v1h-1zM809,312h1v2h-1zM809,314h1v1h-1zM810,315h1v1h-1zM810,316h1v1h-1zM811,317h1v1h-1zM811,318h1v1h-1zM812,319h1v2h-1zM812,321h1v1h-1zM813,322h1v1h-1zM813,323h1v1h-1zM814,324h1v2h-1zM814,326h1v1h-1zM815,327h1v1h-1zM815,328h1v1h-1zM816,329h1v1h-1zM816,330h1v1h-1zM817,331h1v2h-1zM817,333h1v1h-1zM818,334h1v1h-1zM818,335h1v1h-1zM819,336h1v2h-1zM819,338h1v1h-1zM820,339h1v1h-1zM820,340h1v1h-1zM821,341h1v2h-1zM821,343h1v1h-1zM822,344h1v1h-1zM822,345h1v1h-1zM823,346h1v2h-1zM823,348h1v1h-1zM824,349h1v1h-1zM824,350h1v1h-1zM825,351h1v2h-1zM825,353h1v1h-1zM826,354h1v1h-1zM826,355h1v1h-1zM827,356h1v2h-1zM827,358h1v1h-1zM828,359h1v1h-1zM828,360h1v1h-1zM829,361h1v2h-1zM829,363h1v1h-1zM830,364h1v1h-1zM830,365h1v1h-1zM831,366h1v1h-1zM831,367h1v1h-1zM832,368h1v2h-1zM832,370h1v1h-1zM833,371h1v1h-1zM833,372h1v1h-1zM834,373h1v1h-1zM834,374h1v1h-1zM835,375h1v2h-1zM835,377h1v1h-1zM836,378h1v1h-1zM836,379h1v1h-1zM837,380h1v1h-1zM838,381h1v1h-1zM838,382h1v1h-1zM839,383h1v1h-1zM840,384h1v1h-1zM840,385h1v1h-1zM841,386h1v1h-1zM842,387h1v1h-1zM842,388h1v1h-1zM843,389h1v1h-1zM843,390h1v1h-1zM844,391h1v1h-1zM845,392h1v1h-1zM845,393h1v1h-1zM846,394h1v1h-1zM847,395h1v1h-1zM847,396h1v1h-1zM848,397h1v1h-1zM848,398h1v1h-1zM849,399h1v1h-1zM850,400h1v1h-1zM850,401h1v1h-1zM851,402h1v1h-1zM852,403h1v1h-1zM853,404h1v1h-1zM853,405h1v1h-1zM854,406h1v1h-1zM855,407h1v1h-1zM856,408h1v1h-1zM856,409h1v1h-1zM857,410h1v1h-1zM858,411h1v1h-1zM859,412h1v1h-1zM859,413h1v1h-1zM860,414h1v1h-1zM861,415h1v1h-1zM862,416h1v1h-1zM863,417h1v1h-1zM863,418h1v1h-1zM864,419h1v1h-1zM865,420h1v1h-1zM866,421h1v1h-1zM867,422h1v1h-1zM868,423h1v1h-1zM869,424h1v1h-1zM870,425h1v1h-1zM871,426h1v1h-1zM872,427h1v1h-1zM873,428h1v1h-1zM873,429h1v1h-1zM874,430h1v1h-1zM875,431h1v1h-1zM876,432h1v1h-1zM877,433h1v1h-1zM878,434h2v1h-2zM880,435h1v1h-1zM881,436h1v1h-1zM882,437h1v1h-1zM883,438h1v1h-1zM884,439h1v1h-1zM885,440h1v1h-1zM886,441h1v1h-1zM887,442h1v1h-1zM888,443h1v1h-1zM889,444h1v1h-1zM890,445h2v1h-2zM892,446h2v1h-2zM894,447h1v1h-1zM895,448h2v1h-2zM897,449h2v1h-2zM899,450h2v1h-2zM901,451h1v1h-1zM902,452h2v1h-2zM904,453h5v1h-5zM909,454h8v1h-8zM917,455h28v1h-28zM945,456h1v1h-1zM946,457h2v1h-2zM948,458h2v1h-2zM950,459h2v1h-2zM952,460h1v1h-1zM953,461h2v1h-2zM955,462h4v1h-4zM959,463h8v1h-8zM967,464h3v1h-3zM970,465h3v1h-3zM973,466h3v1h-3zM976,467h3v1h-3zM979,468h3v1h-3zM982,469h3v1h-3zM985,470h3v1h-3zM988,471h3v1h-3zM991,472h4v1h-4zM995,473h3v1h-3zM998,474h3v1h-3zM1001,475h2v1h-2zM1003,476h2v1h-2zM1005,477h1v1h-1zM1006,478h2v1h-2zM1008,479h1v1h-1zM1009,480h3v1h-3zM1012,481h5v1h-5zM1017,482h2v1h-2zM1019,481h5v1h-5zM1024,480h4v1h-4zM1028,479h2v1h-2zM1030,478h2v1h-2zM1032,477h2v1h-2zM1034,476h2v1h-2zM1036,475h2v1h-2zM1038,474h2v1h-2zM1040,473h2v1h-2zM1042,472h1v1h-1zM1043,471h1v1h-1zM1044,470h1v1h-1zM1045,469h2v1h-2zM1047,468h1v1h-1zM1048,467h1v1h-1zM1049,466h2v1h-2zM1051,465h1v1h-1zM1052,464h1v1h-1zM1053,463h1v1h-1zM1054,462h1v1h-1zM1055,461h1v1h-1zM1056,460h2v1h-2zM1058,459h1v1h-1zM1059,458h1v1h-1zM1060,457h1v1h-1zM1061,456h1v1h-1zM1062,455h1v1h-1zM1063,454h1v1h-1zM1064,453h1v1h-1zM1065,452h1v1h-1zM1066,451h1v1h-1zM1067,450h1v1h-1zM1068,449h1v1h-1zM1069,448h1v1h-1zM1070,447h1v1h-1zM1071,446h1v1h-1zM1072,445h1v1h-1zM1073,444h1v1h-1zM1074,443h1v1h-1zM1075,442h1v1h-1zM1076,441h1v1h-1zM1077,440h1v1h-1zM1078,439h1v1h-1zM1079,438h1v1h-1zM1080,437h1v1h-1zM1081,436h1v1h-1zM1082,434h1v2h-1zM1083,433h1v1h-1zM1084,432h1v1h-1zM1085,431h1v1h-1zM1086,430h1v1h-1zM1087,429h1v1h-1zM1088,428h1v1h-1zM1089,427h1v1h-1zM1090,426h1v1h-1zM1091,425h1v1h-1zM1092,423h1v2h-1zM1093,422h1v1h-1zM1094,421h1v1h-1zM1095,420h1v1h-1zM1096,419h1v1h-1zM1097,418h1v1h-1zM1098,416h1v2h-1zM1099,415h1v1h-1zM1100,414h1v1h-1zM1101,413h1v1h-1zM1102,412h1v1h-1zM1103,411h1v1h-1zM1104,409h1v2h-1zM1105,408h1v1h-1zM1106,407h1v1h-1zM1107,406h1v1h-1zM1108,405h1v1h-1zM1109,404h1v1h-1zM1110,402h1v2h-1zM1111,401h1v1h-1zM1112,400h1v1h-1zM1113,399h1v1h-1zM1114,398h1v1h-1z"/>
<path fill="#0000cd" shape-rendering="crispEdges" d="M13,146h1v1h-1zM14,145h3v1h-3zM17,144h3v1h-3zM20,142h1v2h-1zM21,140h1v2h-1zM22,138h1v2h-1zM23,136h1v2h-1zM24,135h1v1h-1zM25,133h1v2h-1zM26,131h1v2h-1zM27,129h1v2h-1zM28,129h8v1h-8zM36,127h1v2h-1zM37,126h1v1h-1zM38,125h1v1h-1zM39,124h1v1h-1zM40,123h1v1h-1zM41,121h1v2h-1zM42,120h1v1h-1zM43,119h1v1h-1zM44,118h1v1h-1zM45,117h1v1h-1zM46,116h1v1h-1zM47,115h1v1h-1zM48,114h1v1h-1zM49,113h1v1h-1zM50,111h1v2h-1zM51,110h1v1h-1zM52,109h1v1h-1zM53,108h1v1h-1zM54,107h1v1h-1zM55,106h1v1h-1zM56,104h1v2h-1zM57,103h1v1h-1zM58,102h1v1h-1zM59,100h1v2h-1zM104,96h1v1h-1zM104,97h1v1h-1zM105,98h1v2h-1zM105,100h1v1h-1zM106,101h1v2h-1zM106,103h1v1h-1zM107,104h1v2h-1zM107,106h1v1h-1zM108,107h1v2h-1zM108,109h1v1h-1zM109,110h1v1h-1zM109,111h1v1h-1zM110,112h1v2h-1zM110,114h1v1h-1zM111,115h1v1h-1zM111,116h1v1h-1zM112,117h1v1h-1zM112,118h1v1h-1zM113,119h1v2h-1zM113,121h1v1h-1zM114,122h1v1h-1zM114,123h1v1h-1zM115,124h1v2h-1zM115,126h1v1h-1zM116,127h1v1h-1zM116,128h1v1h-1zM117,129h1v2h-1zM117,131h1v1h-1zM118,132h1v1h-1zM118,133h1v1h-1zM119,134h1v2h-1zM119,136h1v1h-1zM120,137h1v1h-1zM120,138h1v1h-1zM121,139h1v1h-1zM121,140h1v1h-1zM122,141h1v2h-1zM122,143h1v1h-1zM123,144h1v1h-1zM123,145h1v1h-1zM124,146h1v2h-1zM124,148h1v1h-1zM125,149h1v1h-1zM125,150h1v1h-1zM126,151h1v1h-1zM126,152h1v1h-1zM127,153h1v1h-1zM127,154h1v1h-1zM128,155h1v1h-1zM128,156h1v1h-1zM129,157h1v2h-1zM129,159h1v1h-1zM130,160h1v1h-1zM130,161h1v1h-1zM131,162h1v1h-1zM131,163h1v1h-1zM132,164h1v1h-1zM132,165h1v1h-1zM133,166h1v1h-1zM133,167h1v1h-1zM134,168h1v2h-1zM135,170h1v1h-1zM135,171h1v1h-1zM136,172h1v1h-1zM137,173h1v1h-1zM137,174h1v1h-1zM138,175h1v1h-1zM139,176h1v1h-1zM139,177h1v1h-1zM140,178h1v1h-1zM141,179h1v1h-1zM142,180h1v1h-1zM142,181h1v1h-1zM143,182h1v1h-1zM144,183h1v1h-1zM144,184h1v1h-1zM145,185h1v1h-1zM146,186h1v1h-1zM146,187h1v1h-1zM147,188h1v1h-1zM148,189h1v1h-1zM148,190h1v1h-1zM149,191h1v1h-1zM150,192h1v1h-1zM150,193h1v1h-1zM151,194h1v1h-1zM152,195h1v1h-1zM153,196h1v1h-1zM153,197h1v1h-1zM154,198h1v1h-1zM155,199h1v1h-1zM155,200h1v1h-1zM156,201h1v1h-1zM157,202h1v1h-1zM157,203h1v1h-1zM158,204h1v1h-1zM159,205h1v1h-1zM159,206h1v1h-1zM160,207h1v1h-1zM161,208h1v1h-1zM161,209h1v1h-1zM162,210h1v1h-1zM163,211h1v1h-1zM164,212h2v1h-2zM166,213h2v1h-2zM168,214h2v1h-2zM170,215h10v1h-10zM180,216h1v1h-1zM181,217h1v1h-1zM182,218h1v1h-1zM183,219h1v1h-1zM184,220h2v1h-2zM186,221h1v1h-1zM187,222h1v1h-1zM188,223h1v1h-1zM189,224h1v1h-1zM190,225h1v1h-1zM191,226h1v1h-1zM192,227h1v1h-1zM193,228h1v1h-1zM194,229h1v1h-1zM195,230h1v1h-1zM196,231h2v1h-2zM198,232h1v1h-1zM199,233h1v1h-1zM200,234h1v1h-1zM201,235h1v1h-1zM202,236h1v1h-1zM203,237h1v1h-1zM204,238h1v1h-1zM205,239h1v1h-1zM206,240h1v1h-1zM207,241h1v1h-1zM208,242h1v1h-1zM209,243h1v1h-1zM210,244h1v1h-1zM211,245h1v1h-1zM212,246h3v1h-3zM215,247h3v1h-3zM218,248h11v1h-11zM229,249h2v1h-2zM231,250h2v1h-2zM233,251h2v1h-2zM235,252h2v1h-2zM237,253h2v1h-2zM239,254h2v1h-2zM241,255h1v1h-1zM242,256h1v1h-1zM243,257h2v1h-2zM245,258h1v1h-1zM246,259h1v1h-1zM247,260h1v1h-1zM248,261h1v1h-1zM248,262h1v1h-1zM249,263h1v1h-1zM250,264h1v1h-1zM251,265h1v1h-1zM251,266h1v1h-1zM252,267h1v1h-1zM253,268h1v1h-1zM254,269h1v1h-1zM254,270h1v1h-1zM255,271h1v1h-1zM256,272h1v1h-1zM257,273h1v1h-1zM257,274h1v1h-1zM258,275h1v1h-1zM259,276h1v1h-1zM259,277h1v1h-1zM260,278h1v1h-1zM261,279h1v1h-1zM262,280h1v1h-1zM262,281h1v1h-1zM263,282h1v1h-1zM264,283h1v1h-1zM264,284h1v1h-1zM265,285h1v1h-1zM266,286h1v1h-1zM266,287h1v1h-1zM267,288h1v1h-1zM267,289h1v1h-1zM268,290h1v1h-1zM269,291h1v1h-1zM269,292h1v1h-1zM270,293h1v1h-1zM270,294h1v1h-1zM271,295h1v1h-1zM272,296h1v1h-1zM272,297h1v1h-1zM273,298h1v1h-1zM273,299h1v1h-1zM274,300h1v1h-1zM275,301h1v1h-1zM275,302h1v1h-1zM276,303h1v1h-1zM276,304h1v1h-1zM277,305h1v1h-1zM278,306h1v1h-1zM278,307h1v1h-1zM279,308h1v1h-1zM280,309h1v1h-1zM280,310h1v1h-1zM281,311h1v1h-1zM282,312h1v1h-1zM282,313h1v1h-1zM283,314h1v1h-1zM284,315h1v1h-1zM284,316h1v1h-1zM285,317h1v1h-1zM286,318h1v1h-1zM286,319h1v1h-1zM287,320h1v1h-1zM288,321h1v1h-1zM289,322h1v1h-1zM289,323h1v1h-1zM290,324h1v1h-1zM291,325h1v1h-1zM292,326h1v1h-1zM293,327h1v1h-1zM294,328h1v1h-1zM295,329h1v1h-1zM295,330h1v1h-1zM296,331h1v1h-1zM297,332h1v1h-1zM298,333h1v1h-1zM299,334h1v1h-1zM300,335h1v1h-1zM301,336h1v1h-1zM302,337h1v1h-1zM303,338h1v1h-1zM304,339h2v1h-2zM306,340h1v1h-1zM307,341h1v1h-1zM308,342h2v1h-2zM310,343h2v1h-2zM312,344h3v1h-3zM315,345h1v1h-1zM316,344h2v1h-2zM318,343h2v1h-2zM320,342h2v1h-2zM322,341h1v1h-1zM323,340h1v1h-1zM324,339h1v1h-1zM325,338h1v1h-1zM326,337h1v1h-1zM327,336h1v1h-1zM328,335h1v1h-1zM329,334h1v1h-1zM330,333h1v1h-1zM331,332h1v1h-1zM332,331h4v1h-4zM336,330h5v1h-5zM341,329h5v1h-5zM346,328h2v1h-2zM348,327h2v1h-2zM350,326h2v1h-2zM352,325h2v1h-2zM354,324h2v1h-2zM356,323h2v1h-2zM358,322h2v1h-2zM360,321h2v1h-2zM362,320h2v1h-2zM364,319h2v1h-2zM366,318h2v1h-2zM368,317h2v1h-2zM370,316h4v1h-4zM374,315h5v1h-5zM379,314h2v1h-2zM381,313h2v1h-2zM383,312h2v1h-2zM385,311h2v1h-2zM387,310h1v1h-1zM388,309h1v1h-1zM389,308h1v1h-1zM390,307h1v1h-1zM391,305h1v2h-1zM392,304h1v1h-1zM393,303h1v1h-1zM394,302h1v1h-1zM395,301h1v1h-1zM396,299h1v2h-1zM397,298h1v1h-1zM398,297h2v1h-2zM400,296h1v1h-1zM401,295h2v1h-2zM403,294h1v1h-1zM404,293h2v1h-2zM406,292h1v1h-1zM407,291h2v1h-2zM409,290h1v1h-1zM410,289h1v1h-1zM411,287h1v2h-1zM412,285h1v2h-1zM413,284h1v1h-1zM414,282h1v2h-1zM415,280h1v2h-1zM416,278h1v2h-1zM417,277h1v1h-1zM418,275h1v2h-1zM419,274h1v1h-1zM420,273h1v1h-1zM421,272h1v1h-1zM422,270h1v2h-1zM423,269h1v1h-1zM424,268h1v1h-1zM425,267h1v1h-1zM426,266h1v1h-1zM427,265h2v1h-2zM429,264h3v1h-3zM432,263h2v1h-2zM434,262h7v1h-7zM441,263h3v1h-3zM444,264h1v1h-1zM445,265h1v1h-1zM446,266h1v1h-1zM447,267h1v1h-1zM448,268h1v1h-1zM449,269h1v1h-1zM450,270h1v1h-1zM451,271h1v1h-1zM452,272h2v1h-2zM454,273h1v1h-1zM455,274h1v1h-1zM456,275h1v1h-1zM457,276h1v1h-1zM458,277h1v1h-1zM459,278h1v1h-1zM460,279h1v1h-1zM460,280h1v1h-1zM461,281h1v1h-1zM461,282h1v1h-1zM462,283h1v1h-1zM462,284h1v1h-1zM463,285h1v1h-1zM463,286h1v1h-1zM464,287h1v1h-1zM464,288h1v1h-1zM465,289h1v1h-1zM465,290h1v1h-1zM466,291h1v1h-1zM466,292h1v1h-1zM467,293h1v1h-1zM467,294h1v1h-1zM468,295h1v1h-1zM468,296h1v1h-1zM469,297h1v1h-1zM469,298h1v1h-1zM470,299h1v1h-1zM470,300h1v1h-1zM471,301h1v1h-1zM471,302h1v1h-1zM472,303h1v1h-1zM472,304h1v1h-1zM473,305h1v1h-1zM473,306h1v1h-1zM474,307h1v2h-1zM474,309h1v1h-1zM475,310h1v1h-1zM475,311h1v1h-1zM476,312h1v1h-1zM476,313h1v1h-1zM477,314h1v2h-1zM477,316h1v1h-1zM478,317h1v1h-1zM478,318h1v1h-1zM479,319h1v1h-1zM479,320h1v1h-1zM480,321h1v2h-1zM480,323h1v1h-1zM481,324h1v1h-1zM481,325h1v1h-1zM482,326h1v1h-1zM482,327h1v1h-1zM483,328h1v2h-1zM483,330h1v1h-1zM484,331h1v1h-1zM485,332h1v1h-1zM486,333h1v1h-1zM486,334h1v1h-1zM487,335h1v1h-1zM488,336h1v1h-1zM489,337h1v1h-1zM489,338h1v1h-1zM490,339h1v1h-1zM491,340h1v1h-1zM491,341h1v1h-1zM492,342h1v1h-1zM493,343h1v1h-1zM494,344h1v1h-1zM494,345h1v1h-1zM495,346h1v1h-1zM496,347h1v1h-1zM497,348h1v1h-1zM497,349h1v1h-1zM498,350h3v1h-3zM501,351h4v1h-4zM505,352h3v1h-3zM508,351h4v1h-4zM512,350h3v1h-3zM515,349h1v1h-1zM516,348h1v1h-1zM517,346h1v2h-1zM518,345h1v1h-1zM519,344h1v1h-1zM520,342h1v2h-1zM521,341h1v1h-1zM522,340h1v1h-1zM523,338h1v2h-1zM524,337h1v1h-1zM525,335h1v2h-1zM526,334h1v1h-1zM527,333h1v1h-1zM528,331h1v2h-1zM529,329h1v2h-1zM530,328h1v1h-1zM531,326h1v2h-1zM532,324h1v2h-1zM533,323h1v1h-1zM534,321h1v2h-1zM535,319h1v2h-1zM536,317h1v2h-1zM537,316h1v1h-1zM538,314h1v2h-1zM539,312h1v2h-1zM540,311h1v1h-1zM541,309h1v2h-1zM542,307h1v2h-1zM543,305h1v2h-1zM544,304h1v1h-1zM545,302h1v2h-1zM546,300h1v2h-1zM547,298h1v2h-1zM548,296h1v2h-1zM549,294h1v2h-1zM550,292h1v2h-1zM551,290h1v2h-1zM552,288h1v2h-1zM553,286h1v2h-1zM554,284h1v2h-1zM555,282h1v2h-1zM556,280h1v2h-1zM557,278h1v2h-1zM558,276h1v2h-1zM559,274h1v2h-1zM560,272h1v2h-1zM561,270h1v2h-1zM562,269h1v1h-1zM563,268h1v1h-1zM564,266h1v2h-1zM565,265h1v1h-1zM566,263h1v2h-1zM567,262h1v1h-1zM568,260h1v2h-1zM569,259h1v1h-1zM570,257h1v2h-1zM571,256h1v1h-1zM572,255h4v1h-4zM576,254h4v1h-4zM580,253h2v1h-2zM582,252h1v1h-1zM583,251h2v1h-2zM585,250h2v1h-2zM587,249h1v1h-1zM588,248h1v1h-1zM589,247h1v1h-1zM590,246h1v1h-1zM591,245h1v1h-1zM592,243h1v2h-1zM593,242h1v1h-1zM594,241h1v1h-1zM595,240h1v1h-1zM596,239h1v1h-1zM597,238h2v1h-2zM599,237h2v1h-2zM601,236h2v1h-2zM603,235h3v1h-3zM606,236h2v1h-2zM608,237h2v1h-2zM610,238h3v1h-3zM613,239h1v1h-1zM614,240h1v1h-1zM615,241h1v1h-1zM616,242h1v1h-1zM617,243h1v1h-1zM618,244h1v1h-1zM619,245h1v1h-1zM620,246h2v1h-2zM622,247h1v1h-1zM623,248h1v1h-1zM624,249h1v1h-1zM625,250h1v1h-1zM626,251h1v1h-1zM627,252h1v1h-1zM628,253h2v1h-2zM630,254h2v1h-2zM632,255h2v1h-2zM634,256h1v1h-1zM635,257h2v1h-2zM637,258h2v1h-2zM639,259h1v1h-1zM640,260h1v1h-1zM641,261h2v1h-2zM643,262h1v1h-1zM644,263h1v1h-1zM645,264h2v1h-2zM647,265h1v1h-1zM648,266h1v1h-1zM649,267h1v1h-1zM650,268h2v1h-2zM652,269h3v1h-3zM655,268h6v1h-6zM661,267h2v1h-2zM663,266h2v1h-2zM665,265h2v1h-2zM667,264h1v1h-1zM668,263h1v1h-1zM669,262h1v1h-1zM670,261h1v1h-1zM671,260h1v1h-1zM672,259h1v1h-1zM673,258h1v1h-1zM674,257h1v1h-1zM675,256h1v1h-1zM676,255h1v1h-1zM677,254h1v1h-1zM678,253h2v1h-2zM680,252h1v1h-1zM681,251h1v1h-1zM682,250h1v1h-1zM683,249h2v1h-2zM685,248h1v1h-1zM686,246h1v2h-1zM687,245h1v1h-1zM688,243h1v2h-1zM689,241h1v2h-1zM690,239h1v2h-1zM691,237h1v2h-1zM692,236h1v1h-1zM693,234h1v2h-1zM694,232h1v2h-1zM695,230h1v2h-1zM696,229h1v1h-1zM697,227h1v2h-1zM698,225h1v2h-1zM699,224h1v1h-1zM700,222h1v2h-1zM701,220h1v2h-1zM702,219h1v1h-1zM703,218h1v1h-1zM704,217h2v1h-2zM706,216h1v1h-1zM707,215h2v1h-2zM709,214h1v1h-1zM710,213h3v1h-3zM713,212h4v1h-4zM717,211h3v1h-3zM720,210h4v1h-4zM724,211h2v1h-2zM726,212h2v1h-2zM728,213h1v1h-1zM729,214h2v1h-2zM731,215h2v1h-2zM733,216h1v1h-1zM734,217h1v1h-1zM735,218h1v1h-1zM736,219h1v1h-1zM737,220h1v1h-1zM738,221h2v1h-2zM740,222h1v1h-1zM741,223h1v1h-1zM742,224h1v1h-1zM743,225h1v1h-1zM744,226h1v1h-1zM745,227h1v1h-1zM746,228h1v1h-1zM746,229h1v1h-1zM747,230h1v1h-1zM747,231h1v1h-1zM748,232h1v1h-1zM748,233h1v1h-1zM749,234h1v1h-1zM749,235h1v1h-1zM750,236h1v2h-1zM750,238h1v1h-1zM751,239h1v1h-1zM751,240h1v1h-1zM752,241h1v1h-1zM752,242h1v1h-1zM753,243h1v1h-1zM753,244h1v1h-1zM754,245h1v2h-1zM754,247h1v1h-1zM755,248h1v1h-1zM755,249h1v1h-1zM756,250h1v2h-1zM756,252h1v1h-1zM757,253h1v2h-1zM757,255h1v1h-1zM758,256h1v1h-1zM758,257h1v1h-1zM759,258h1v2h-1zM759,260h1v1h-1zM760,261h1v2h-1zM760,263h1v1h-1zM761,264h1v1h-1zM761,265h1v1h-1zM762,266h1v2h-1zM762,268h1v1h-1zM763,269h1v2h-1zM763,271h1v1h-1zM764,272h1v1h-1zM764,273h1v1h-1zM765,274h1v2h-1zM765,276h1v1h-1zM766,277h1v2h-1zM766,279h1v1h-1zM767,280h1v1h-1zM767,281h1v1h-1zM768,282h1v1h-1zM768,283h1v1h-1zM769,284h1v2h-1zM769,286h1v1h-1zM770,287h1v1h-1zM770,288h1v1h-1zM771,289h1v1h-1zM771,290h1v1h-1zM772,291h1v2h-1zM772,293h1v1h-1zM773,294h1v1h-1zM773,295h1v1h-1zM774,296h1v1h-1zM774,297h1v1h-1zM775,298h1v2h-1zM775,300h1v1h-1zM776,301h1v1h-1zM776,302h1v1h-1zM777,303h1v2h-1zM777,305h1v1h-1zM778,306h1v1h-1zM778,307h1v1h-1zM779,308h1v1h-1zM779,309h1v1h-1zM780,310h1v2h-1zM780,312h1v1h-1zM781,313h1v1h-1zM781,314h1v1h-1zM782,315h1v1h-1zM782,316h1v1h-1zM783,317h1v2h-1zM783,319h1v1h-1zM784,320h1v1h-1zM784,321h1v1h-1zM785,322h1v1h-1zM785,323h1v1h-1zM786,324h1v2h-1zM786,326h1v1h-1zM787,327h1v1h-1zM787,328h1v1h-1zM788,329h1v2h-1zM788,331h1v1h-1zM789,332h1v2h-1zM789,334h1v1h-1zM790,335h1v2h-1zM790,337h1v1h-1zM791,338h1v2h-1zM791,340h1v1h-1zM792,341h1v2h-1zM792,343h1v1h-1zM793,344h1v2h-1zM793,346h1v1h-1zM794,347h1v2h-1zM794,349h1v1h-1zM795,350h1v2h-1zM795,352h1v1h-1zM796,353h1v2h-1zM796,355h1v1h-1zM797,356h1v2h-1zM797,358h1v1h-1zM798,359h1v2h-1zM798,361h1v1h-1zM799,362h1v1h-1zM799,363h1v1h-1zM800,364h1v1h-1zM800,365h1v1h-1zM801,366h1v1h-1zM801,367h1v1h-1zM802,368h1v1h-1zM802,369h1v1h-1zM803,370h1v1h-1zM803,371h1v1h-1zM804,372h1v2h-1zM804,374h1v1h-1zM805,375h1v1h-1zM805,376h1v1h-1zM806,377h1v1h-1zM806,378h1v1h-1zM807,379h1v1h-1zM807,380h1v1h-1zM808,381h1v1h-1zM808,382h1v1h-1zM809,383h1v2h-1zM809,385h1v1h-1zM810,386h1v1h-1zM810,387h1v1h-1zM811,388h1v1h-1zM811,389h1v1h-1zM812,390h1v2h-1zM812,392h1v1h-1zM813,393h1v1h-1zM813,394h1v1h-1zM814,395h1v2h-1zM814,397h1v1h-1zM815,398h1v1h-1zM815,399h1v1h-1zM816,400h1v1h-1zM816,401h1v1h-1zM817,402h1v2h-1zM817,404h1v1h-1zM818,405h1v1h-1zM818,406h1v1h-1zM819,407h1v2h-1zM819,409h1v1h-1zM820,410h1v1h-1zM820,411h1v1h-1zM821,412h1v2h-1zM821,414h1v1h-1zM822,415h1v1h-1zM822,416h1v1h-1zM823,417h1v2h-1zM823,419h1v1h-1zM824,420h1v1h-1zM824,421h1v1h-1zM825,422h1v2h-1zM825,424h1v1h-1zM826,425h1v1h-1zM826,426h1v1h-1zM827,427h1v2h-1zM827,429h1v1h-1zM828,430h1v1h-1zM828,431h1v1h-1zM829,432h1v1h-1zM829,433h1v1h-1zM830,434h1v1h-1zM830,435h1v1h-1zM831,436h1v1h-1zM831,437h1v1h-1zM832,438h1v1h-1zM832,439h1v1h-1zM833,440h1v1h-1zM833,441h1v1h-1zM834,442h1v1h-1zM834,443h1v1h-1zM835,444h2v1h-2zM837,445h2v1h-2zM839,446h2v1h-2zM841,447h3v1h-3zM844,448h2v1h-2zM846,449h5v1h-5zM851,450h5v1h-5zM856,451h3v1h-3zM859,452h2v1h-2zM861,453h1v1h-1zM862,454h2v1h-2zM864,455h2v1h-2zM866,456h2v1h-2zM868,455h2v1h-2zM870,454h2v1h-2zM872,453h2v1h-2zM874,452h5v1h-5zM879,453h6v1h-6zM885,452h3v1h-3zM888,451h3v1h-3zM891,450h1v1h-1zM892,451h2v1h-2zM894,452h2v1h-2zM896,453h2v1h-2zM898,454h2v1h-2zM900,455h3v1h-3zM903,456h3v1h-3zM906,457h4v1h-4zM910,458h3v1h-3zM913,459h4v1h-4zM917,458h2v1h-2zM919,457h2v1h-2zM921,456h6v1h-6zM927,457h6v1h-6zM933,458h13v1h-13zM946,459h1v1h-1zM947,460h1v1h-1zM948,461h1v1h-1zM949,462h1v1h-1zM949,463h1v1h-1zM950,464h1v1h-1zM951,465h1v1h-1zM952,466h1v1h-1zM953,467h1v1h-1zM953,468h1v1h-1zM954,469h1v1h-1zM955,470h1v1h-1zM956,471h4v1h-4zM960,472h5v1h-5zM965,473h6v1h-6zM971,474h2v1h-2zM973,475h2v1h-2zM975,476h2v1h-2zM977,477h2v1h-2zM979,478h1v1h-1zM980,479h1v1h-1zM981,480h2v1h-2zM983,481h1v1h-1zM984,482h1v1h-1zM985,483h2v1h-2zM987,484h1v1h-1zM988,485h2v1h-2zM990,486h2v1h-2zM992,487h2v1h-2zM994,488h3v1h-3zM997,489h2v1h-2zM999,490h2v1h-2zM1001,491h2v1h-2zM1003,492h3v1h-3zM1006,491h10v1h-10zM1016,492h3v1h-3zM1019,491h2v1h-2zM1021,490h1v1h-1zM1022,489h1v1h-1zM1023,488h2v1h-2zM1025,487h1v1h-1zM1026,486h1v1h-1zM1027,485h1v1h-1zM1028,484h1v1h-1zM1029,483h1v1h-1zM1030,482h1v1h-1zM1031,480h1v2h-1zM1032,479h1v1h-1zM1033,478h1v1h-1zM1034,477h1v1h-1zM1035,475h1v2h-1zM1036,474h1v1h-1zM1037,472h1v2h-1zM1038,470h1v2h-1zM1039,468h1v2h-1zM1040,466h1v2h-1zM1041,464h1v2h-1zM1042,462h1v2h-1zM1043,460h1v2h-1zM1044,458h1v2h-1zM1045,456h1v2h-1zM1046,454h1v2h-1zM1047,452h1v2h-1zM1048,450h1v2h-1zM1049,448h1v2h-1zM1050,446h1v2h-1zM1051,444h1v2h-1zM1052,441h1v1h-1zM1052,442h1v2h-1zM1053,439h1v2h-1zM1054,437h1v2h-1zM1055,435h1v2h-1zM1056,432h1v1h-1zM1056,433h1v2h-1zM1057,430h1v2h-1zM1058,428h1v2h-1zM1059,425h1v1h-1zM1059,426h1v2h-1zM1060,423h1v2h-1zM1061,421h1v2h-1zM1062,418h1v1h-1zM1062,419h1v2h-1zM1063,416h1v2h-1zM1064,414h1v2h-1zM1065,411h1v1h-1zM1065,412h1v2h-1zM1066,409h1v2h-1zM1067,407h1v2h-1zM1068,405h1v2h-1zM1069,402h1v1h-1zM1069,403h1v2h-1zM1070,400h1v2h-1zM1071,398h1v2h-1zM1072,396h1v2h-1zM1073,394h1v2h-1zM1074,392h1v2h-1zM1075,391h1v1h-1zM1076,390h1v1h-1zM1077,389h1v1h-1zM1078,388h1v1h-1zM1079,386h1v2h-1zM1080,385h1v1h-1zM1081,384h1v1h-1zM1082,383h1v1h-1zM1083,382h1v1h-1zM1084,381h1v1h-1zM1085,380h1v1h-1zM1086,379h1v1h-1zM1087,378h1v1h-1zM1088,377h1v1h-1zM1089,375h1v2h-1zM1090,374h1v1h-1zM1091,373h2v1h-2zM1093,372h2v1h-2zM1095,371h3v1h-3zM1098,370h2v1h-2zM1100,369h3v1h-3zM1103,368h3v1h-3zM1106,367h6v1h-6zM1112,368h3v1h-3z"/>
<g shape-rendering="crispEdges">
<rect x="3" y="147" width="1415" height="3" fill="#ff0000" />
<rect x="3" y="241" width="1415" height="3" fill="#ff0000" />
<rect x="3" y="360" width="1415" height="3" fill="#ff0000" />
<rect x="2" y="358" width="7" height="7" fill="#ff0000" />
<rect x="5" y="361" width="1" height="1" fill="#fff" />
<rect x="1412" y="358" width="7" height="7" fill="#ff0000" />
<rect x="1415" y="361" width="1" height="1" fill="#fff" />
<rect x="3" y="477" width="1415" height="3" fill="#00ff00" />
<rect x="2" y="475" width="7" height="7" fill="#00ff00" />
<rect x="5" y="478" width="1" height="1" fill="#fff" />
<rect x="1412" y="475" width="7" height="7" fill="#00ff00" />
<rect x="1415" y="478" width="1" height="1" fill="#fff" />
<rect x="3" y="549" width="1415" height="3" fill="#0000ff" />
<rect x="2" y="547" width="7" height="7" fill="#0000ff" />
<rect x="5" y="550" width="1" height="1" fill="#fff" />
<rect x="1412" y="547" width="7" height="7" fill="#0000ff" />
<rect x="1415" y="550" width="1" height="1" fill="#fff" />
<rect x="11" y="592" width="1" height="3" fill="#c0c0c0" />
<rect x="19" y="590" width="1" height="5" fill="#c0c0c0" />
<rect x="27" y="585" width="1" height="10" fill="#c0c0c0" />
<rect x="35" y="585" width="1" height="10" fill="#c0c0c0" />
<rect x="43" y="581" width="1" height="14" fill="#c0c0c0" />
<rect x="51" y="578" width="1" height="17" fill="#c0c0c0" />
<rect x="59" y="576" width="1" height="19" fill="#c0c0c0" />
<rect x="67" y="577" width="1" height="18" fill="#c0c0c0" />
<rect x="75" y="574" width="1" height="21" fill="#c0c0c0" />
<rect x="83" y="577" width="1" height="18" fill="#c0c0c0" />
<rect x="91" y="577" width="1" height="18" fill="#c0c0c0" />
<rect x="99" y="580" width="1" height="15" fill="#c0c0c0" />
<rect x="107" y="585" width="1" height="10" fill="#c0c0c0" />
<rect x="115" y="594" width="1" height="2" fill="#c0c0c0" />
<rect x="123" y="594" width="1" height="10" fill="#c0c0c0" />
<rect x="131" y="594" width="1" height="16" fill="#c0c0c0" />
<rect x="139" y="594" width="1" height="19" fill="#c0c0c0" />
<rect x="147" y="594" width="1" height="20" fill="#c0c0c0" />
<rect x="155" y="594" width="1" height="21" fill="#c0c0c0" />
<rect x="163" y="594" width="1" height="26" fill="#c0c0c0" />
<rect x="171" y="594" width="1" height="30" fill="#c0c0c0" />
<rect x="179" y="594" width="1" height="32" fill="#c0c0c0" />
<rect x="187" y="594" width="1" height="36" fill="#c0c0c0" />
<rect x="195" y="594" width="1" height="37" fill="#c0c0c0" />
<rect x="203" y="594" width="1" height="36" fill="#c0c0c0" />
<rect x="211" y="594" width="1" height="37" fill="#c0c0c0" />
<rect x="219" y="594" width="1" height="37" fill="#c0c0c0" />
<rect x="227" y="594" width="1" height="36" fill="#c0c0c0" />
<rect x="235" y="594" width="1" height="36" fill="#c0c0c0" />
<rect x="243" y="594" width="1" height="39" fill="#c0c0c0" />
<rect x="251" y="594" width="1" height="42" fill="#c0c0c0" />
<rect x="259" y="594" width="1" height="45" fill="#c0c0c0" />
<rect x="267" y="594" width="1" height="49" fill="#c0c0c0" />
<rect x="275" y="594" width="1" height="55" fill="#c0c0c0" />
<rect x="283" y="594" width="1" height="55" fill="#c0c0c0" />
<rect x="291" y="594" width="1" height="52" fill="#c0c0c0" />
<rect x="299" y="594" width="1" height="54" fill="#c0c0c0" />
<rect x="307" y="594" width="1" height="55" fill="#c0c0c0" />
<rect x="315" y="594" width="1" height="52" fill="#c0c0c0" />
<rect x="323" y="594" width="1" height="47" fill="#c0c0c0" />
<rect x="331" y="594" width="1" height="44" fill="#c0c0c0" />
<rect x="339" y="594" width="1" height="40" fill="#c0c0c0" />
<rect x="347" y="594" width="1" height="37" fill="#c0c0c0" />
<rect x="355" y="594" width="1" height="35" fill="#c0c0c0" />
<rect x="363" y="594" width="1" height="33" fill="#c0c0c0" />
<rect x="371" y="594" width="1" height="28" fill="#c0c0c0" />
<rect x="379" y="594" width="1" height="27" fill="#c0c0c0" />
<rect x="387" y="594" width="1" height="20" fill="#c0c0c0" />
<rect x="395" y="594" width="1" height="13" fill="#c0c0c0" />
<rect x="403" y="594" width="1" height="10" fill="#c0c0c0" />
<rect x="411" y="594" width="1" height="6" fill="#c0c0c0" />
<rect x="419" y="594" width="1" height="2" fill="#c0c0c0" />
<rect x="427" y="592" width="1" height="3" fill="#c0c0c0" />
<rect x="435" y="593" width="1" height="2" fill="#c0c0c0" />
<rect x="443" y="593" width="1" height="2" fill="#c0c0c0" />
<rect x="451" y="594" width="1" height="1" fill="#c0c0c0" />
<rect x="459" y="594" width="1" height="3" fill="#c0c0c0" />
<rect x="467" y="594" width="1" height="13" fill="#c0c0c0" />
<rect x="475" y="594" width="1" height="17" fill="#c0c0c0" />
<rect x="483" y="594" width="1" height="23" fill="#c0c0c0" />
<rect x="491" y="594" width="1" height="24" fill="#c0c0c0" />
<rect x="499" y="594" width="1" height="25" fill="#c0c0c0" />
<rect x="507" y="594" width="1" height="22" fill="#c0c0c0" />
<rect x="515" y="594" width="1" height="17" fill="#c0c0c0" />
<rect x="523" y="594" width="1" height="14" fill="#c0c0c0" />
<rect x="531" y="594" width="1" height="8" fill="#c0c0c0" />
<rect x="539" y="594" width="1" height="4" fill="#c0c0c0" />
<rect x="547" y="594" width="1" height="2" fill="#c0c0c0" />
<rect x="555" y="588" width="1" height="7" fill="#c0c0c0" />
<rect x="563" y="582" width="1" height="13" fill="#c0c0c0" />
<rect x="571" y="577" width="1" height="18" fill="#c0c0c0" />
<rect x="579" y="579" width="1" height="16" fill="#c0c0c0" />
<rect x="587" y="578" width="1" height="17" fill="#c0c0c0" />
<rect x="595" y="574" width="1" height="21" fill="#c0c0c0" />
<rect x="603" y="572" width="1" height="23" fill="#c0c0c0" />
<rect x="611" y="574" width="1" height="21" fill="#c0c0c0" />
<rect x="619" y="576" width="1" height="19" fill="#c0c0c0" />
<rect x="627" y="579" width="1" height="16" fill="#c0c0c0" />
<rect x="635" y="585" width="1" height="10" fill="#c0c0c0" />
<rect x="643" y="588" width="1" height="7" fill="#c0c0c0" />
<rect x="651" y="588" width="1" height="7" fill="#c0c0c0" />
<rect x="659" y="584" width="1" height="11" fill="#c0c0c0" />
<rect x="667" y="581" width="1" height="14" fill="#c0c0c0" />
<rect x="675" y="578" width="1" height="17" fill="#c0c0c0" />
<rect x="683" y="577" width="1" height="18" fill="#c0c0c0" />
<rect x="691" y="577" width="1" height="18" fill="#c0c0c0" />
<rect x="699" y="572" width="1" height="23" fill="#c0c0c0" />
<rect x="707" y="571" width="1" height="24" fill="#c0c0c0" />
<rect x="715" y="570" width="1" height="25" fill="#c0c0c0" />
<rect x="723" y="571" width="1" height="24" fill="#c0c0c0" />
<rect x="731" y="575" width="1" height="20" fill="#c0c0c0" />
<rect x="739" y="580" width="1" height="15" fill="#c0c0c0" />
<rect x="747" y="587" width="1" height="8" fill="#c0c0c0" />
<rect x="755" y="594" width="1" height="2" fill="#c0c0c0" />
<rect x="763" y="594" width="1" height="8" fill="#c0c0c0" />
<rect x="771" y="594" width="1" height="14" fill="#c0c0c0" />
<rect x="779" y="594" width="1" height="21" fill="#c0c0c0" />
<rect x="787" y="594" width="1" height="28" fill="#c0c0c0" />
<rect x="795" y="594" width="1" height="39" fill="#c0c0c0" />
<rect x="803" y="594" width="1" height="46" fill="#c0c0c0" />
<rect x="811" y="594" width="1" height="52" fill="#c0c0c0" />
<rect x="819" y="594" width="1" height="59" fill="#c0c0c0" />
<rect x="827" y="594" width="1" height="64" fill="#c0c0c0" />
<rect x="835" y="594" width="1" height="67" fill="#c0c0c0" />
<rect x="843" y="594" width="1" height="64" fill="#c0c0c0" />
<rect x="851" y="594" width="1" height="62" fill="#c0c0c0" />
<rect x="859" y="594" width="1" height="62" fill="#c0c0c0" />
<rect x="867" y="594" width="1" height="63" fill="#c0c0c0" />
<rect x="875" y="594" width="1" height="59" fill="#c0c0c0" />
<rect x="883" y="594" width="1" height="59" fill="#c0c0c0" />
<rect x="891" y="594" width="1" height="57" fill="#c0c0c0" />
<rect x="899" y="594" width="1" height="54" fill="#c0c0c0" />
<rect x="907" y="594" width="1" height="50" fill="#c0c0c0" />
<rect x="915" y="594" width="1" height="50" fill="#c0c0c0" />
<rect x="923" y="594" width="1" height="47" fill="#c0c0c0" />
<rect x="931" y="594" width="1" height="44" fill="#c0c0c0" />
<rect x="939" y="594" width="1" height="42" fill="#c0c0c0" />
<rect x="947" y="594" width="1" height="42" fill="#c0c0c0" />
<rect x="955" y="594" width="1" height="44" fill="#c0c0c0" />
<rect x="963" y="594" width="1" height="40" fill="#c0c0c0" />
<rect x="971" y="594" width="1" height="39" fill="#c0c0c0" />
<rect x="979" y="594" width="1" height="39" fill="#c0c0c0" />
<rect x="987" y="594" width="1" height="38" fill="#c0c0c0" />
<rect x="995" y="594" width="1" height="38" fill="#c0c0c0" />
<rect x="1003" y="594" width="1" height="37" fill="#c0c0c0" />
<rect x="1011" y="594" width="1" height="38" fill="#c0c0c0" />
<rect x="1019" y="594" width="1" height="33" fill="#c0c0c0" />
<rect x="1027" y="594" width="1" height="26" fill="#c0c0c0" />
<rect x="1035" y="594" width="1" height="19" fill="#c0c0c0" />
<rect x="1043" y="594" width="1" height="10" fill="#c0c0c0" />
<rect x="1051" y="594" width="1" height="2" fill="#c0c0c0" />
<rect x="1059" y="590" width="1" height="5" fill="#c0c0c0" />
<rect x="1067" y="585" width="1" height="10" fill="#c0c0c0" />
<rect x="1075" y="580" width="1" height="15" fill="#c0c0c0" />
<rect x="1083" y="577" width="1" height="18" fill="#c0c0c0" />
<rect x="1091" y="573" width="1" height="22" fill="#c0c0c0" />
<rect x="1099" y="571" width="1" height="24" fill="#c0c0c0" />
<rect x="1107" y="571" width="1" height="24" fill="#c0c0c0" />
<rect x="1115" y="571" width="1" height="24" fill="#c0c0c0" />
<rect x="515" y="565" width="1" height="5" fill="#ff0000" />
<line x1="4" y1="708.5" x2="1418" y2="708.5" stroke="#c0c0c0" stroke-width="1" stroke-dasharray="3,3"/>
<line x1="4" y1="759.5" x2="1418" y2="759.5" stroke="#c0c0c0" stroke-width="1" stroke-dasharray="3,3"/>
</g>
<path fill="#ff0000" shape-rendering="crispEdges" d="M3,595h3v1h-3zM9,594h3v1h-3zM15,593h3v1h-3zM21,593h3v1h-3zM27,592h3v1h-3zM33,591h3v1h-3zM39,590h3v1h-3zM45,588h3v1h-3zM51,587h3v1h-3zM57,585h3v1h-3zM63,584h2v1h-2zM65,583h1v1h-1zM69,582h3v1h-3zM75,581h3v1h-3zM81,579h3v1h-3zM87,578h3v1h-3zM93,577h3v1h-3zM99,577h3v1h-3zM105,577h3v1h-3zM111,577h3v1h-3zM117,579h3v1h-3zM123,580h1v1h-1zM124,581h1v1h-1zM125,582h1v1h-1zM129,584h1v1h-1zM130,585h2v1h-2zM135,588h2v1h-2zM137,589h1v1h-1zM141,591h1v1h-1zM142,592h2v1h-2zM147,594h1v1h-1zM148,595h2v1h-2zM153,597h1v1h-1zM154,598h1v1h-1zM155,599h1v1h-1zM159,601h1v1h-1zM160,602h1v1h-1zM161,603h1v1h-1zM165,606h2v1h-2zM167,607h1v1h-1zM171,609h1v1h-1zM172,610h2v1h-2zM177,612h1v1h-1zM178,613h2v1h-2zM183,615h1v1h-1zM184,616h2v1h-2zM189,617h1v1h-1zM190,618h2v1h-2zM195,619h1v1h-1zM196,620h2v1h-2zM201,622h1v1h-1zM202,623h2v1h-2zM207,624h2v1h-2zM209,625h1v1h-1zM213,625h1v1h-1zM214,626h2v1h-2zM219,626h1v1h-1zM220,627h2v1h-2zM225,628h3v1h-3zM231,629h3v1h-3zM237,629h3v1h-3zM243,630h3v1h-3zM249,631h2v1h-2zM251,632h1v1h-1zM255,632h1v1h-1zM256,633h2v1h-2zM261,633h2v1h-2zM263,634h1v1h-1zM267,634h2v1h-2zM269,635h1v1h-1zM273,636h3v1h-3zM279,637h2v1h-2zM281,638h1v1h-1zM285,638h1v1h-1zM286,639h2v1h-2zM291,640h3v1h-3zM297,642h2v1h-2zM299,643h1v1h-1zM303,643h3v1h-3zM309,644h3v1h-3zM315,645h3v1h-3zM321,645h1v1h-1zM322,646h2v1h-2zM327,646h3v1h-3zM333,646h1v1h-1zM334,645h2v1h-2zM339,644h3v1h-3zM345,643h1v1h-1zM346,642h2v1h-2zM351,641h3v1h-3zM357,640h1v1h-1zM358,639h2v1h-2zM363,638h3v1h-3zM369,636h2v1h-2zM371,635h1v1h-1zM375,634h2v1h-2zM377,633h1v1h-1zM381,631h2v1h-2zM383,630h1v1h-1zM387,629h1v1h-1zM388,628h2v1h-2zM393,626h1v1h-1zM394,625h2v1h-2zM399,623h1v1h-1zM400,622h2v1h-2zM405,620h1v1h-1zM406,619h2v1h-2zM411,617h2v1h-2zM413,616h1v1h-1zM417,614h1v1h-1zM418,613h2v1h-2zM423,611h1v1h-1zM424,610h2v1h-2zM429,608h1v1h-1zM430,607h2v1h-2zM435,605h2v1h-2zM437,604h1v1h-1zM441,603h1v1h-1zM442,602h2v1h-2zM447,600h3v1h-3zM453,599h1v1h-1zM454,598h2v1h-2zM459,597h3v1h-3zM465,597h3v1h-3zM471,597h2v1h-2zM473,598h1v1h-1zM477,598h2v1h-2zM479,599h1v1h-1zM483,599h1v1h-1zM484,600h2v1h-2zM489,601h2v1h-2zM491,602h1v1h-1zM495,603h1v1h-1zM496,604h2v1h-2zM501,605h1v1h-1zM502,606h2v1h-2zM507,607h2v1h-2zM509,608h1v1h-1zM513,609h1v1h-1zM514,610h2v1h-2zM519,611h3v1h-3zM525,612h3v1h-3zM531,612h2v1h-2zM533,611h1v1h-1zM537,611h3v1h-3zM543,610h1v1h-1zM544,609h2v1h-2zM549,608h1v1h-1zM550,607h2v1h-2zM555,605h3v1h-3zM561,603h1v1h-1zM562,602h1v1h-1zM563,601h1v1h-1zM567,599h2v1h-2zM569,598h1v1h-1zM573,596h2v1h-2zM575,595h1v1h-1zM579,593h2v1h-2zM581,592h1v1h-1zM585,590h1v1h-1zM586,589h2v1h-2zM591,587h1v1h-1zM592,586h2v1h-2zM597,584h1v1h-1zM598,583h2v1h-2zM603,581h3v1h-3zM609,579h3v1h-3zM615,578h2v1h-2zM617,577h1v1h-1zM621,576h3v1h-3zM627,576h3v1h-3zM633,576h3v1h-3zM639,576h3v1h-3zM645,577h3v1h-3zM651,578h3v1h-3zM657,578h1v1h-1zM658,579h2v1h-2zM663,579h3v1h-3zM669,580h3v1h-3zM675,580h3v1h-3zM681,581h3v1h-3zM687,581h3v1h-3zM693,581h1v1h-1zM694,580h2v1h-2zM699,580h3v1h-3zM705,579h3v1h-3zM711,578h2v1h-2zM713,577h1v1h-1zM717,576h2v1h-2zM719,575h1v1h-1zM723,575h3v1h-3zM729,574h3v1h-3zM735,574h3v1h-3zM741,574h3v1h-3zM747,575h3v1h-3zM753,576h1v1h-1zM754,577h2v1h-2zM759,578h1v1h-1zM760,579h2v1h-2zM765,581h2v1h-2zM767,582h1v1h-1zM771,584h1v1h-1zM772,585h2v1h-2zM777,588h2v1h-2zM779,589h1v1h-1zM783,591h1v1h-1zM784,592h1v1h-1zM785,593h1v1h-1zM789,596h2v1h-2zM791,597h1v1h-1zM795,601h1v1h-1zM796,602h1v1h-1zM797,603h1v1h-1zM801,607h1v1h-1zM802,608h1v1h-1zM803,609h1v1h-1zM807,612h1v1h-1zM808,613h1v1h-1zM809,614h1v1h-1zM813,618h1v1h-1zM814,619h1v1h-1zM815,620h1v1h-1zM819,624h1v1h-1zM820,625h1v1h-1zM821,626h1v1h-1zM825,629h1v1h-1zM826,630h1v1h-1zM827,631h1v1h-1zM831,634h1v1h-1zM832,635h1v1h-1zM833,636h1v1h-1zM837,638h1v1h-1zM838,639h1v1h-1zM839,640h1v1h-1zM843,642h1v1h-1zM844,643h1v1h-1zM845,644h1v1h-1zM849,646h1v1h-1zM850,647h2v1h-2zM855,649h1v1h-1zM856,650h2v1h-2zM861,652h3v1h-3zM867,653h1v1h-1zM868,654h2v1h-2zM873,655h3v1h-3zM879,656h3v1h-3zM885,656h3v1h-3zM891,656h2v1h-2zM893,655h1v1h-1zM897,655h2v1h-2zM899,654h1v1h-1zM903,654h1v1h-1zM904,653h2v1h-2zM909,652h3v1h-3zM915,651h3v1h-3zM921,650h3v1h-3zM927,648h3v1h-3zM933,646h2v1h-2zM935,645h1v1h-1zM939,644h3v1h-3zM945,644h2v1h-2zM947,643h1v1h-1zM951,643h1v1h-1zM952,642h2v1h-2zM957,641h1v1h-1zM958,640h2v1h-2zM963,640h2v1h-2zM965,639h1v1h-1zM969,639h3v1h-3zM975,638h2v1h-2zM977,637h1v1h-1zM981,636h3v1h-3zM987,635h3v1h-3zM993,635h2v1h-2zM995,634h1v1h-1zM999,634h3v1h-3zM1005,634h3v1h-3zM1011,634h2v1h-2zM1013,633h1v1h-1zM1017,633h2v1h-2zM1019,632h1v1h-1zM1023,632h1v1h-1zM1024,631h2v1h-2zM1029,630h1v1h-1zM1030,629h2v1h-2zM1035,627h3v1h-3zM1041,625h1v1h-1zM1042,624h2v1h-2zM1047,622h2v1h-2zM1049,621h1v1h-1zM1053,619h1v1h-1zM1054,618h2v1h-2zM1059,615h2v1h-2zM1061,614h1v1h-1zM1065,612h2v1h-2zM1067,611h1v1h-1zM1071,608h1v1h-1zM1072,607h1v1h-1zM1073,606h1v1h-1zM1077,603h2v1h-2zM1079,602h1v1h-1zM1083,599h1v1h-1zM1084,598h1v1h-1zM1085,597h1v1h-1zM1089,594h2v1h-2zM1091,593h1v1h-1zM1095,590h1v1h-1zM1096,589h1v1h-1zM1097,588h1v1h-1zM1101,585h2v1h-2zM1103,584h1v1h-1zM1107,581h2v1h-2zM1109,580h1v1h-1zM1113,579h1v1h-1zM1114,578h1v1h-1z"/>
<path fill="#1e90ff" shape-rendering="crispEdges" d="M3,733h2v1h-2zM5,732h2v1h-2zM7,731h1v1h-1zM8,730h2v1h-2zM10,729h3v1h-3zM13,728h7v1h-7zM20,727h1v1h-1zM21,726h1v1h-1zM22,725h1v1h-1zM23,724h1v1h-1zM24,723h1v1h-1zM25,722h1v1h-1zM26,721h1v1h-1zM27,720h1v1h-1zM28,721h1v1h-1zM29,722h1v1h-1zM29,723h1v1h-1zM30,724h1v1h-1zM31,725h1v1h-1zM32,726h1v1h-1zM33,727h1v1h-1zM33,728h1v1h-1zM34,729h1v1h-1zM35,730h1v1h-1zM36,729h1v1h-1zM37,728h1v1h-1zM38,727h1v1h-1zM39,726h1v1h-1zM40,725h1v1h-1zM41,724h1v1h-1zM42,723h1v1h-1zM43,722h20v1h-20zM63,723h4v1h-4zM67,724h1v1h-1zM68,723h4v1h-4zM72,722h5v1h-5zM77,723h1v1h-1zM78,724h1v1h-1zM79,725h1v1h-1zM80,726h1v1h-1zM81,727h1v1h-1zM82,728h1v1h-1zM83,729h10v1h-10zM93,730h3v1h-3zM96,731h2v1h-2zM98,732h2v1h-2zM100,733h1v1h-1zM101,734h1v1h-1zM102,735h1v1h-1zM102,736h1v1h-1zM103,737h1v1h-1zM104,738h1v1h-1zM105,739h1v1h-1zM106,740h1v1h-1zM107,741h1v1h-1zM107,742h1v1h-1zM108,743h1v1h-1zM108,744h1v1h-1zM109,745h1v1h-1zM110,746h1v1h-1zM110,747h1v1h-1zM111,748h1v1h-1zM111,749h1v1h-1zM112,750h1v1h-1zM113,751h1v1h-1zM113,752h1v1h-1zM114,753h1v1h-1zM114,754h1v1h-1zM115,755h3v1h-3zM118,754h6v1h-6zM124,753h1v1h-1zM125,752h1v1h-1zM126,751h2v1h-2zM128,750h1v1h-1zM129,749h1v1h-1zM130,748h3v1h-3zM133,747h7v1h-7zM140,746h3v1h-3zM143,745h2v1h-2zM145,744h7v1h-7zM152,745h4v1h-4zM156,746h2v1h-2zM158,747h1v1h-1zM159,748h2v1h-2zM161,749h1v1h-1zM162,750h2v1h-2zM164,751h2v1h-2zM166,752h2v1h-2zM168,753h1v1h-1zM169,754h2v1h-2zM171,755h1v1h-1zM172,754h1v1h-1zM173,753h1v1h-1zM174,752h1v1h-1zM175,751h2v1h-2zM177,750h1v1h-1zM178,749h1v1h-1zM179,748h1v1h-1zM180,749h1v1h-1zM181,750h1v1h-1zM182,751h1v1h-1zM183,752h2v1h-2zM185,753h1v1h-1zM186,754h1v1h-1zM187,755h1v1h-1zM188,754h2v1h-2zM190,753h2v1h-2zM192,752h1v1h-1zM193,751h2v1h-2zM195,750h2v1h-2zM197,749h2v1h-2zM199,748h1v1h-1zM200,747h2v1h-2zM202,746h4v1h-4zM206,747h3v1h-3zM209,748h6v1h-6zM215,749h6v1h-6zM221,748h2v1h-2zM223,747h3v1h-3zM226,746h3v1h-3zM229,747h3v1h-3zM232,748h2v1h-2zM234,749h2v1h-2zM236,750h2v1h-2zM238,751h1v1h-1zM239,752h2v1h-2zM241,753h1v1h-1zM242,754h1v1h-1zM243,755h4v1h-4zM247,756h4v1h-4zM251,757h5v1h-5zM256,758h4v1h-4zM260,759h2v1h-2zM262,760h2v1h-2zM264,761h1v1h-1zM265,762h2v1h-2zM267,763h3v1h-3zM270,764h2v1h-2zM272,765h3v1h-3zM275,766h1v1h-1zM276,764h1v2h-1zM277,763h1v1h-1zM278,762h1v1h-1zM279,760h1v2h-1zM280,759h1v1h-1zM281,757h1v2h-1zM282,756h1v1h-1zM283,755h1v1h-1zM284,754h1v1h-1zM285,753h2v1h-2zM287,752h2v1h-2zM289,751h1v1h-1zM290,750h3v1h-3zM293,751h1v1h-1zM294,752h2v1h-2zM296,753h2v1h-2zM298,754h1v1h-1zM299,755h6v1h-6zM305,756h3v1h-3zM308,755h1v1h-1zM309,754h1v1h-1zM310,753h1v1h-1zM311,752h2v1h-2zM313,751h1v1h-1zM314,750h1v1h-1zM315,749h1v1h-1zM316,748h1v1h-1zM317,747h1v1h-1zM318,746h1v1h-1zM319,745h1v1h-1zM320,744h1v1h-1zM321,743h1v1h-1zM322,742h1v1h-1zM323,741h6v1h-6zM329,742h5v1h-5zM334,743h5v1h-5zM339,744h1v1h-1zM340,743h5v1h-5zM345,742h5v1h-5zM350,743h5v1h-5zM355,744h2v1h-2zM357,745h3v1h-3zM360,746h2v1h-2zM362,747h2v1h-2zM364,746h1v1h-1zM365,745h1v1h-1zM366,743h1v2h-1zM367,742h1v1h-1zM368,741h1v1h-1zM369,739h1v2h-1zM370,738h1v1h-1zM371,737h3v1h-3zM374,738h4v1h-4zM378,739h2v1h-2zM380,738h1v1h-1zM381,736h1v2h-1zM382,735h1v1h-1zM383,734h1v1h-1zM384,732h1v2h-1zM385,731h1v1h-1zM386,729h1v2h-1zM387,728h2v1h-2zM389,727h2v1h-2zM391,726h2v1h-2zM393,725h2v1h-2zM395,724h1v1h-1zM396,725h1v1h-1zM397,726h2v1h-2zM399,727h1v1h-1zM400,728h1v1h-1zM401,729h2v1h-2zM403,730h4v1h-4zM407,729h5v1h-5zM412,728h1v1h-1zM413,727h1v1h-1zM414,726h1v1h-1zM415,725h1v1h-1zM416,724h1v1h-1zM417,723h1v1h-1zM418,722h3v1h-3zM421,723h2v1h-2zM423,724h2v1h-2zM425,725h2v1h-2zM427,726h1v1h-1zM428,727h1v1h-1zM429,728h1v1h-1zM430,729h1v1h-1zM431,730h1v1h-1zM432,731h1v1h-1zM433,732h1v1h-1zM434,733h1v1h-1zM435,734h9v1h-9zM444,735h1v1h-1zM445,736h2v1h-2zM447,737h1v1h-1zM448,738h1v1h-1zM449,739h1v1h-1zM450,740h2v1h-2zM452,741h2v1h-2zM454,742h2v1h-2zM456,743h2v1h-2zM458,744h1v1h-1zM459,745h1v1h-1zM460,746h1v1h-1zM461,747h1v1h-1zM462,748h1v1h-1zM463,749h1v1h-1zM464,750h1v1h-1zM465,751h1v1h-1zM466,752h1v1h-1zM467,753h1v1h-1zM468,752h2v1h-2zM470,751h2v1h-2zM472,750h2v1h-2zM474,749h3v1h-3zM477,750h1v1h-1zM478,751h2v1h-2zM480,752h2v1h-2zM482,753h1v1h-1zM483,754h1v1h-1zM484,753h1v1h-1zM485,751h1v2h-1zM486,750h1v1h-1zM487,749h1v1h-1zM488,748h1v1h-1zM489,747h1v1h-1zM490,746h1v1h-1zM491,745h4v1h-4zM495,744h5v1h-5zM500,743h1v1h-1zM501,741h1v2h-1zM502,740h1v1h-1zM503,739h1v1h-1zM504,738h1v1h-1zM505,737h1v1h-1zM506,736h1v1h-1zM507,735h1v1h-1zM508,734h6v1h-6zM514,733h3v1h-3zM517,732h2v1h-2zM519,731h2v1h-2zM521,730h2v1h-2zM523,729h3v1h-3zM526,728h2v1h-2zM528,727h3v1h-3zM531,726h5v1h-5zM536,727h4v1h-4zM540,726h2v1h-2zM542,725h2v1h-2zM544,724h1v1h-1zM545,723h2v1h-2zM547,722h2v1h-2zM549,721h2v1h-2zM551,720h2v1h-2zM553,719h2v1h-2zM555,718h3v1h-3zM558,717h2v1h-2zM560,716h3v1h-3zM563,715h9v1h-9zM571,716h1v1h-1zM572,717h1v1h-1zM572,718h1v1h-1zM573,719h1v1h-1zM573,720h1v1h-1zM574,721h1v1h-1zM574,722h1v1h-1zM575,723h1v1h-1zM575,724h1v1h-1zM576,725h1v1h-1zM576,726h1v1h-1zM577,727h1v1h-1zM577,728h1v1h-1zM578,729h1v1h-1zM578,730h1v1h-1zM579,731h1v1h-1zM580,730h1v1h-1zM581,729h2v1h-2zM583,728h1v1h-1zM584,727h1v1h-1zM585,726h2v1h-2zM587,725h1v1h-1zM588,724h1v1h-1zM589,723h2v1h-2zM591,722h1v1h-1zM592,721h1v1h-1zM593,720h2v1h-2zM595,719h5v1h-5zM600,720h4v1h-4zM604,721h1v1h-1zM604,722h1v1h-1zM605,723h1v1h-1zM606,724h1v1h-1zM607,725h1v1h-1zM607,726h1v1h-1zM608,727h1v1h-1zM609,728h1v1h-1zM610,729h1v1h-1zM610,730h1v1h-1zM611,731h12v1h-12zM623,732h3v1h-3zM626,733h2v1h-2zM628,734h1v1h-1zM629,735h1v1h-1zM630,736h1v1h-1zM631,737h1v1h-1zM632,738h1v1h-1zM632,739h1v1h-1zM633,740h1v1h-1zM634,741h1v1h-1zM635,742h1v1h-1zM636,741h1v1h-1zM637,740h1v1h-1zM638,739h2v1h-2zM640,738h1v1h-1zM641,737h1v1h-1zM642,736h1v1h-1zM643,735h2v1h-2zM645,734h3v1h-3zM648,733h2v1h-2zM650,732h2v1h-2zM652,731h1v1h-1zM653,730h1v1h-1zM654,729h1v1h-1zM655,727h1v2h-1zM656,726h1v1h-1zM657,725h1v1h-1zM658,724h1v1h-1zM659,723h4v1h-4zM663,724h6v1h-6zM669,723h3v1h-3zM672,722h2v1h-2zM674,721h3v1h-3zM677,722h1v1h-1zM678,723h2v1h-2zM680,724h2v1h-2zM682,725h1v1h-1zM683,726h4v1h-4zM687,727h4v1h-4zM691,728h1v1h-1zM692,726h1v2h-1zM693,725h1v1h-1zM694,724h1v1h-1zM695,723h1v1h-1zM696,721h1v2h-1zM697,720h1v1h-1zM698,719h1v1h-1zM699,718h2v1h-2zM701,719h1v1h-1zM702,720h1v1h-1zM703,721h2v1h-2zM705,722h1v1h-1zM706,723h1v1h-1zM707,724h11v1h-11zM718,725h2v1h-2zM720,726h3v1h-3zM723,727h1v1h-1zM724,728h2v1h-2zM726,729h1v1h-1zM727,730h1v1h-1zM728,731h1v1h-1zM729,732h2v1h-2zM731,733h1v1h-1zM732,734h2v1h-2zM734,735h2v1h-2zM736,736h2v1h-2zM738,737h2v1h-2zM740,738h1v1h-1zM741,739h2v1h-2zM743,740h1v1h-1zM744,741h1v1h-1zM745,742h2v1h-2zM747,743h1v1h-1zM748,744h1v1h-1zM749,745h1v1h-1zM750,746h2v1h-2zM752,747h1v1h-1zM753,748h1v1h-1zM754,749h1v1h-1zM755,750h13v1h-13zM768,751h5v1h-5zM773,752h2v1h-2zM775,753h2v1h-2zM777,754h2v1h-2zM779,755h2v1h-2zM781,756h2v1h-2zM783,757h2v1h-2zM785,758h2v1h-2zM787,759h2v1h-2zM789,760h2v1h-2zM791,761h1v1h-1zM792,762h2v1h-2zM794,763h1v1h-1zM795,764h13v1h-13zM808,765h5v1h-5zM813,766h3v1h-3zM816,767h2v1h-2zM818,768h18v1h-18zM836,766h1v2h-1zM837,763h1v1h-1zM837,764h1v2h-1zM838,761h1v2h-1zM839,759h1v2h-1zM840,757h1v2h-1zM841,755h1v2h-1zM842,753h1v2h-1zM843,751h1v2h-1zM844,751h2v1h-2zM846,752h2v1h-2zM848,753h3v1h-3zM851,754h4v1h-4zM855,755h3v1h-3zM858,756h3v1h-3zM861,757h3v1h-3zM864,758h3v1h-3zM867,759h1v1h-1zM868,757h1v2h-1zM869,756h1v1h-1zM870,754h1v2h-1zM871,753h1v1h-1zM872,751h1v2h-1zM873,750h1v1h-1zM874,749h1v1h-1zM875,747h1v2h-1zM876,748h1v1h-1zM877,749h1v1h-1zM878,750h2v1h-2zM880,751h1v1h-1zM881,752h1v1h-1zM882,753h1v1h-1zM883,754h1v1h-1zM884,753h1v1h-1zM885,752h2v1h-2zM887,751h2v1h-2zM889,750h1v1h-1zM890,749h3v1h-3zM893,748h2v1h-2zM895,747h3v1h-3zM898,746h11v1h-11zM909,747h1v1h-1zM910,748h2v1h-2zM912,749h2v1h-2zM914,750h1v1h-1zM915,751h1v1h-1zM916,750h1v1h-1zM917,749h2v1h-2zM919,748h2v1h-2zM921,747h1v1h-1zM922,746h2v1h-2zM924,745h3v1h-3zM927,744h2v1h-2zM929,743h2v1h-2zM931,742h1v1h-1zM932,743h1v1h-1zM933,744h2v1h-2zM935,745h1v1h-1zM936,746h2v1h-2zM938,747h1v1h-1zM939,748h6v1h-6zM945,749h3v1h-3zM948,750h1v1h-1zM949,751h2v1h-2zM951,752h1v1h-1zM952,753h1v1h-1zM953,754h1v1h-1zM954,755h2v1h-2zM956,753h1v2h-1zM957,752h1v1h-1zM958,750h1v2h-1zM959,748h1v2h-1zM960,746h1v2h-1zM961,744h1v2h-1zM962,742h1v2h-1zM963,740h1v2h-1zM964,740h2v1h-2zM966,741h3v1h-3zM969,742h3v1h-3zM972,743h4v1h-4zM976,744h3v1h-3zM979,745h7v1h-7zM986,746h7v1h-7zM993,747h9v1h-9zM1002,748h5v1h-5zM1007,749h5v1h-5zM1012,748h1v1h-1zM1013,746h1v2h-1zM1014,745h1v1h-1zM1015,743h1v2h-1zM1016,742h1v1h-1zM1017,740h1v2h-1zM1018,739h1v1h-1zM1019,737h1v2h-1zM1020,736h1v1h-1zM1021,735h2v1h-2zM1023,734h1v1h-1zM1024,733h1v1h-1zM1025,732h1v1h-1zM1026,731h1v1h-1zM1027,730h2v1h-2zM1029,729h2v1h-2zM1031,728h3v1h-3zM1034,727h2v1h-2zM1036,726h1v1h-1zM1037,725h1v1h-1zM1038,724h1v1h-1zM1039,723h1v1h-1zM1040,722h2v1h-2zM1042,721h1v1h-1zM1043,720h6v1h-6zM1049,721h4v1h-4zM1053,720h2v1h-2zM1055,719h3v1h-3zM1058,718h6v1h-6zM1064,719h5v1h-5zM1069,718h2v1h-2zM1071,717h3v1h-3zM1074,716h3v1h-3zM1077,717h2v1h-2zM1079,718h2v1h-2zM1081,719h2v1h-2zM1083,720h1v1h-1zM1084,719h3v1h-3zM1087,718h3v1h-3zM1090,717h10v1h-10zM1100,718h2v1h-2zM1102,719h1v1h-1zM1103,720h1v1h-1zM1104,721h2v1h-2zM1106,722h1v1h-1zM1107,723h9v1h-9z"/>
<g shape-rendering="crispEdges">
<rect x="1419" y="30" width="2" height="1" fill="#000" />
<rect x="1419" y="63" width="2" height="1" fill="#000" />
<rect x="1419" y="96" width="2" height="1" fill="#000" />
<rect x="1419" y="129" width="2" height="1" fill="#000" />
<rect x="1419" y="162" width="2" height="1" fill="#000" />
<rect x="1419" y="195" width="2" height="1" fill="#000" />
<rect x="1419" y="228" width="2" height="1" fill="#000" />
<rect x="1419" y="261" width="2" height="1" fill="#000" />
<rect x="1419" y="294" width="2" height="1" fill="#000" />
<rect x="1419" y="327" width="2" height="1" fill="#000" />
<rect x="1419" y="360" width="2" height="1" fill="#000" />
<rect x="1419" y="393" width="2" height="1" fill="#000" />
<rect x="1419" y="426" width="2" height="1" fill="#000" />
<rect x="1419" y="459" width="2" height="1" fill="#000" />
<rect x="1419" y="492" width="2" height="1" fill="#000" />
<rect x="1419" y="525" width="2" height="1" fill="#000" />
<rect x="1419" y="558" width="2" height="1" fill="#000" />
</g>
<text x="1424.5" y="33.6" font-size="9.6" fill="#000" textLength="32.5" lengthAdjust="spacingAndGlyphs" stroke="#000" stroke-width="0.3" >0.72250</text>
<text x="1424.5" y="66.6" font-size="9.6" fill="#000" textLength="32.5" lengthAdjust="spacingAndGlyphs" stroke="#000" stroke-width="0.3" >0.71900</text>
<text x="1424.5" y="99.6" font-size="9.6" fill="#000" textLength="32.5" lengthAdjust="spacingAndGlyphs" stroke="#000" stroke-width="0.3" >0.71550</text>
<text x="1424.5" y="132.6" font-size="9.6" fill="#000" textLength="32.5" lengthAdjust="spacingAndGlyphs" stroke="#000" stroke-width="0.3" >0.71200</text>
<text x="1424.5" y="165.6" font-size="9.6" fill="#000" textLength="32.5" lengthAdjust="spacingAndGlyphs" stroke="#000" stroke-width="0.3" >0.70850</text>
<text x="1424.5" y="198.6" font-size="9.6" fill="#000" textLength="32.5" lengthAdjust="spacingAndGlyphs" stroke="#000" stroke-width="0.3" >0.70500</text>
<text x="1424.5" y="231.6" font-size="9.6" fill="#000" textLength="32.5" lengthAdjust="spacingAndGlyphs" stroke="#000" stroke-width="0.3" >0.70150</text>
<text x="1424.5" y="264.6" font-size="9.6" fill="#000" textLength="32.5" lengthAdjust="spacingAndGlyphs" stroke="#000" stroke-width="0.3" >0.69800</text>
<text x="1424.5" y="297.6" font-size="9.6" fill="#000" textLength="32.5" lengthAdjust="spacingAndGlyphs" stroke="#000" stroke-width="0.3" >0.69450</text>
<text x="1424.5" y="330.6" font-size="9.6" fill="#000" textLength="32.5" lengthAdjust="spacingAndGlyphs" stroke="#000" stroke-width="0.3" >0.69100</text>
<text x="1424.5" y="396.6" font-size="9.6" fill="#000" textLength="32.5" lengthAdjust="spacingAndGlyphs" stroke="#000" stroke-width="0.3" >0.68400</text>
<text x="1424.5" y="429.6" font-size="9.6" fill="#000" textLength="32.5" lengthAdjust="spacingAndGlyphs" stroke="#000" stroke-width="0.3" >0.68050</text>
<text x="1424.5" y="462.6" font-size="9.6" fill="#000" textLength="32.5" lengthAdjust="spacingAndGlyphs" stroke="#000" stroke-width="0.3" >0.67710</text>
<text x="1424.5" y="495.6" font-size="9.6" fill="#000" textLength="32.5" lengthAdjust="spacingAndGlyphs" stroke="#000" stroke-width="0.3" >0.67360</text>
<text x="1424.5" y="528.6" font-size="9.6" fill="#000" textLength="32.5" lengthAdjust="spacingAndGlyphs" stroke="#000" stroke-width="0.3" >0.67010</text>
<text x="1424.5" y="561.6" font-size="9.6" fill="#000" textLength="32.5" lengthAdjust="spacingAndGlyphs" stroke="#000" stroke-width="0.3" >0.66660</text>
<text x="1422" y="573.7" font-size="9.6" fill="#000" textLength="38" lengthAdjust="spacingAndGlyphs" stroke="#000" stroke-width="0.3" >0.002574</text>
<text x="1422" y="597.7" font-size="9.6" fill="#000" textLength="17" lengthAdjust="spacingAndGlyphs" stroke="#000" stroke-width="0.3" >0.00</text>
<text x="1422" y="662.7" font-size="9.6" fill="#000" textLength="41" lengthAdjust="spacingAndGlyphs" stroke="#000" stroke-width="0.3" >-0.006326</text>
<text x="1422" y="678.2" font-size="9.6" fill="#000" textLength="15.5" lengthAdjust="spacingAndGlyphs" stroke="#000" stroke-width="0.3" >100</text>
<text x="1422" y="711.7" font-size="9.6" fill="#000" textLength="10.5" lengthAdjust="spacingAndGlyphs" stroke="#000" stroke-width="0.3" >70</text>
<text x="1422" y="762.7" font-size="9.6" fill="#000" textLength="10.5" lengthAdjust="spacingAndGlyphs" stroke="#000" stroke-width="0.3" >30</text>
<text x="1422" y="794.3" font-size="9.6" fill="#000" textLength="5" lengthAdjust="spacingAndGlyphs" stroke="#000" stroke-width="0.3" >0</text>
<g shape-rendering="crispEdges">
<rect x="1419" y="594" width="2" height="1" fill="#000" />
<rect x="1419" y="797" width="1" height="1" fill="#000" />
<rect x="1420" y="142" width="41" height="11" fill="#ff0000" />
<rect x="1420" y="236" width="41" height="11" fill="#ff0000" />
<rect x="1420" y="355" width="41" height="11" fill="#ff0000" />
<rect x="1420" y="372" width="41" height="11" fill="#000000" />
<rect x="1420" y="472" width="41" height="11" fill="#00ff00" />
<rect x="1420" y="544" width="41" height="11" fill="#0000ff" />
</g>
<text x="1424.5" y="150.6" font-size="9.6" fill="#fff" textLength="32.5" lengthAdjust="spacingAndGlyphs" stroke="#fff" stroke-width="0.3" >0.71005</text>
<text x="1424.5" y="244.6" font-size="9.6" fill="#fff" textLength="32.5" lengthAdjust="spacingAndGlyphs" stroke="#fff" stroke-width="0.3" >0.70002</text>
<text x="1424.5" y="363.6" font-size="9.6" fill="#fff" textLength="32.5" lengthAdjust="spacingAndGlyphs" stroke="#fff" stroke-width="0.3" >0.68746</text>
<text x="1424.5" y="380.6" font-size="9.6" fill="#fff" textLength="32.5" lengthAdjust="spacingAndGlyphs" stroke="#fff" stroke-width="0.3" >0.68579</text>
<text x="1424.5" y="480.6" font-size="9.6" fill="#fff" textLength="32.5" lengthAdjust="spacingAndGlyphs" stroke="#fff" stroke-width="0.3" >0.67508</text>
<text x="1424.5" y="552.6" font-size="9.6" fill="#fff" textLength="32.5" lengthAdjust="spacingAndGlyphs" stroke="#fff" stroke-width="0.3" >0.66746</text>
<rect x="3" y="23" width="225" height="85" fill="#fff" shape-rendering="crispEdges"/>
<polygon points="6,33.2 13.5,33.2 9.75,28.8" fill="#000"/>
<text x="18.9" y="33.6" font-size="9.8" fill="#000" textLength="67.7" lengthAdjust="spacingAndGlyphs" stroke="#000" stroke-width="0.15" >AUDUSD-,Daily</text>
<text x="92.9" y="33.6" font-size="9.8" fill="#000" textLength="140.9" lengthAdjust="spacingAndGlyphs" stroke="#000" stroke-width="0.15" >0.68609 0.68643 0.68573 0.68579</text>
<text x="7.2" y="576.1" font-size="9.8" fill="#000" textLength="66" lengthAdjust="spacingAndGlyphs" stroke="#000" stroke-width="0.15" >MACD(12,26,9)</text>
<text x="76.1" y="576.1" font-size="9.8" fill="#000" textLength="37.2" lengthAdjust="spacingAndGlyphs" stroke="#000" stroke-width="0.15" >0.002098</text>
<text x="117.4" y="576.1" font-size="9.8" fill="#000" textLength="37.2" lengthAdjust="spacingAndGlyphs" stroke="#000" stroke-width="0.15" >0.001350</text>
<text x="7.2" y="681.0" font-size="9.8" fill="#000" textLength="68" lengthAdjust="spacingAndGlyphs" stroke="#000" stroke-width="0.15" >RSI(14) 57.8224</text>
<g shape-rendering="crispEdges">
<path d="M6,42 H58 V66 H115 V106 H6 Z" fill="url(#gr)"/>
<path d="M6.5,42.5 H57.5 V66.5 H114.5 V105.5 H6.5 Z" fill="none" stroke="#b81414" stroke-width="1"/>
<path d="M173,42 H225 V106 H117 V66 H173 Z" fill="url(#gr)"/>
<path d="M173.5,42.5 H224.5 V105.5 H117.5 V66.5 H173.5 Z" fill="none" stroke="#b81414" stroke-width="1"/>
<rect x="10" y="65" width="44" height="1" fill="#8c1010" />
<rect x="10" y="66" width="44" height="1" fill="#f46a6a" />
<rect x="177" y="65" width="44" height="1" fill="#8c1010" />
<rect x="177" y="66" width="44" height="1" fill="#f46a6a" />
<rect x="60" y="42" width="111" height="22" fill="#a4a8b4" />
<rect x="61" y="43" width="109" height="20" fill="#ffffff" />
<rect x="61" y="43" width="20" height="20" fill="url(#gb)" />
<rect x="81" y="43" width="1" height="20" fill="#a4a8b4" />
<rect x="150" y="43" width="20" height="20" fill="url(#gb)" />
<rect x="149" y="43" width="1" height="20" fill="#a4a8b4" />
<rect x="61.5" y="43.5" width="19" height="19" fill="none" stroke="#fafafa" stroke-opacity="0.8"/>
<rect x="150.5" y="43.5" width="19" height="19" fill="none" stroke="#fafafa" stroke-opacity="0.8"/>
</g>
<polygon points="67.5,51 73.5,51 70.5,54.2" fill="#4a66c8"/>
<polygon points="156.5,54.2 162.5,54.2 159.5,51" fill="#4a66c8"/>
<text x="122.7" y="57.2" font-size="12" fill="#000" textLength="22.9" lengthAdjust="spacingAndGlyphs" >1.00</text>
<text x="18.2" y="57.7" font-size="12" fill="#fff" textLength="25.4" lengthAdjust="spacingAndGlyphs" >SELL</text>
<text x="186.8" y="57.7" font-size="12" fill="#fff" textLength="22.8" lengthAdjust="spacingAndGlyphs" >BUY</text>
<text x="25.7" y="96.6" font-size="11.5" fill="#fff" textLength="24" lengthAdjust="spacingAndGlyphs" font-weight="bold" >0.68</text>
<text x="135.7" y="96.6" font-size="11.5" fill="#fff" textLength="24" lengthAdjust="spacingAndGlyphs" font-weight="bold" >0.68</text>
<text x="54.9" y="96.8" font-size="34.5" fill="#fff" textLength="33" lengthAdjust="spacingAndGlyphs" stroke="url(#gr)" stroke-width="0.7">57</text>
<text x="165.3" y="96.8" font-size="34.5" fill="#fff" textLength="33.4" lengthAdjust="spacingAndGlyphs" stroke="url(#gr)" stroke-width="0.7">60</text>
<text x="93.2" y="81.2" font-size="10.5" fill="#fff" textLength="6.5" lengthAdjust="spacingAndGlyphs" font-weight="bold" >9</text>
<text x="203.9" y="81.2" font-size="10.5" fill="#fff" textLength="6.9" lengthAdjust="spacingAndGlyphs" font-weight="bold" >0</text>
<g shape-rendering="crispEdges">
<rect x="3" y="799" width="1" height="3" fill="#000" />
<rect x="67" y="799" width="1" height="3" fill="#000" />
<rect x="131" y="799" width="1" height="3" fill="#000" />
<rect x="195" y="799" width="1" height="3" fill="#000" />
<rect x="259" y="799" width="1" height="3" fill="#000" />
<rect x="323" y="799" width="1" height="3" fill="#000" />
<rect x="387" y="799" width="1" height="3" fill="#000" />
<rect x="451" y="799" width="1" height="3" fill="#000" />
<rect x="515" y="799" width="1" height="3" fill="#000" />
<rect x="579" y="799" width="1" height="3" fill="#000" />
<rect x="643" y="799" width="1" height="3" fill="#000" />
<rect x="707" y="799" width="1" height="3" fill="#000" />
<rect x="771" y="799" width="1" height="3" fill="#000" />
<rect x="835" y="799" width="1" height="3" fill="#000" />
<rect x="899" y="799" width="1" height="3" fill="#000" />
<rect x="963" y="799" width="1" height="3" fill="#000" />
<rect x="1027" y="799" width="1" height="3" fill="#000" />
<rect x="1091" y="799" width="1" height="3" fill="#000" />
</g>
<text x="2.5" y="810.4" font-size="9.3" fill="#000" stroke="#000" stroke-width="0.3" >7 Apr 2019</text>
<text x="66.5" y="810.4" font-size="9.3" fill="#000" stroke="#000" stroke-width="0.3" >16 Apr 2019</text>
<text x="130.5" y="810.4" font-size="9.3" fill="#000" stroke="#000" stroke-width="0.3" >26 Apr 2019</text>
<text x="194.5" y="810.4" font-size="9.3" fill="#000" stroke="#000" stroke-width="0.3" >6 May 2019</text>
<text x="258.5" y="810.4" font-size="9.3" fill="#000" stroke="#000" stroke-width="0.3" >15 May 2019</text>
<text x="322.5" y="810.4" font-size="9.3" fill="#000" stroke="#000" stroke-width="0.3" >24 May 2019</text>
<text x="386.5" y="810.4" font-size="9.3" fill="#000" stroke="#000" stroke-width="0.3" >3 Jun 2019</text>
<text x="450.5" y="810.4" font-size="9.3" fill="#000" stroke="#000" stroke-width="0.3" >12 Jun 2019</text>
<text x="514.5" y="810.4" font-size="9.3" fill="#000" stroke="#000" stroke-width="0.3" >21 Jun 2019</text>
<text x="578.5" y="810.4" font-size="9.3" fill="#000" stroke="#000" stroke-width="0.3" >1 Jul 2019</text>
<text x="642.5" y="810.4" font-size="9.3" fill="#000" stroke="#000" stroke-width="0.3" >10 Jul 2019</text>
<text x="706.5" y="810.4" font-size="9.3" fill="#000" stroke="#000" stroke-width="0.3" >19 Jul 2019</text>
<text x="770.5" y="810.4" font-size="9.3" fill="#000" stroke="#000" stroke-width="0.3" >29 Jul 2019</text>
<text x="834.5" y="810.4" font-size="9.3" fill="#000" stroke="#000" stroke-width="0.3" >7 Aug 2019</text>
<text x="898.5" y="810.4" font-size="9.3" fill="#000" stroke="#000" stroke-width="0.3" >16 Aug 2019</text>
<text x="962.5" y="810.4" font-size="9.3" fill="#000" stroke="#000" stroke-width="0.3" >26 Aug 2019</text>
<text x="1026.5" y="810.4" font-size="9.3" fill="#000" stroke="#000" stroke-width="0.3" >4 Sep 2019</text>
<text x="1090.5" y="810.4" font-size="9.3" fill="#000" stroke="#000" stroke-width="0.3" >13 Sep 2019</text>
<g shape-rendering="crispEdges">
<rect x="0" y="819" width="1463" height="1" fill="#e8e8e8" />
<rect x="0" y="820" width="1463" height="23" fill="#f0f0f0" />
<rect x="0" y="821" width="1463" height="1" fill="#000" />
<rect x="0" y="841" width="1463" height="1" fill="#fbfbfb" />
<rect x="112" y="821" width="108" height="19" fill="#fff" />
<rect x="112" y="821" width="1" height="19" fill="#000" />
<rect x="219" y="821" width="1" height="19" fill="#000" />
<rect x="112" y="839" width="108" height="1" fill="#000" />
<rect x="112" y="840" width="109" height="1" fill="#000" opacity="0.35"/>
<rect x="220" y="821" width="1" height="19" fill="#000" opacity="0.45"/>
<rect x="328" y="824" width="1" height="14" fill="#585858" />
<rect x="436" y="824" width="1" height="14" fill="#585858" />
<rect x="548" y="824" width="1" height="14" fill="#585858" />
<rect x="668" y="824" width="1" height="14" fill="#585858" />
<rect x="776" y="824" width="1" height="14" fill="#585858" />
<rect x="872" y="824" width="1" height="14" fill="#585858" />
<rect x="952" y="824" width="1" height="14" fill="#585858" />
<rect x="1056" y="824" width="1" height="14" fill="#585858" />
<rect x="1176" y="824" width="1" height="14" fill="#585858" />
</g>
<polygon points="1434,830 1437.2,826.6 1437.2,833.4" fill="#8c8c8c"/>
<polygon points="1453,826.5 1456.5,830 1453,833.5" fill="#8c8c8c"/>
<text x="15.7" y="836" font-size="12" fill="#707070" textLength="84" lengthAdjust="spacingAndGlyphs" >EURUSD-,Daily</text>
<text x="122.2" y="836" font-size="12" fill="#000" textLength="86.6" lengthAdjust="spacingAndGlyphs" >AUDUSD-,Daily</text>
<text x="232.2" y="836" font-size="12" fill="#707070" textLength="84.1" lengthAdjust="spacingAndGlyphs" >USDCHF-,Daily</text>
<text x="339.2" y="836" font-size="12" fill="#707070" textLength="85.6" lengthAdjust="spacingAndGlyphs" >USDCAD-,Daily</text>
<text x="447.8" y="836" font-size="12" fill="#707070" textLength="88.1" lengthAdjust="spacingAndGlyphs" >USDCNH-,Daily</text>
<text x="559.2" y="836" font-size="12" fill="#707070" textLength="97.1" lengthAdjust="spacingAndGlyphs" >EURCHF-,Weekly</text>
<text x="679.2" y="836" font-size="12" fill="#707070" textLength="85.6" lengthAdjust="spacingAndGlyphs" >XAUUSD-,Daily</text>
<text x="787.5" y="836" font-size="12" fill="#707070" textLength="72.1" lengthAdjust="spacingAndGlyphs" >GBPUSD-,H1</text>
<text x="883.1" y="836" font-size="12" fill="#707070" textLength="56" lengthAdjust="spacingAndGlyphs" >UKOil-,H1</text>
<text x="962.6" y="836" font-size="12" fill="#707070" textLength="82.4" lengthAdjust="spacingAndGlyphs" >USDX-,Weekly</text>
<text x="1067.4" y="836" font-size="12" fill="#707070" textLength="96.2" lengthAdjust="spacingAndGlyphs" >EURCHF-,Weekly</text>
</svg></body></html>
